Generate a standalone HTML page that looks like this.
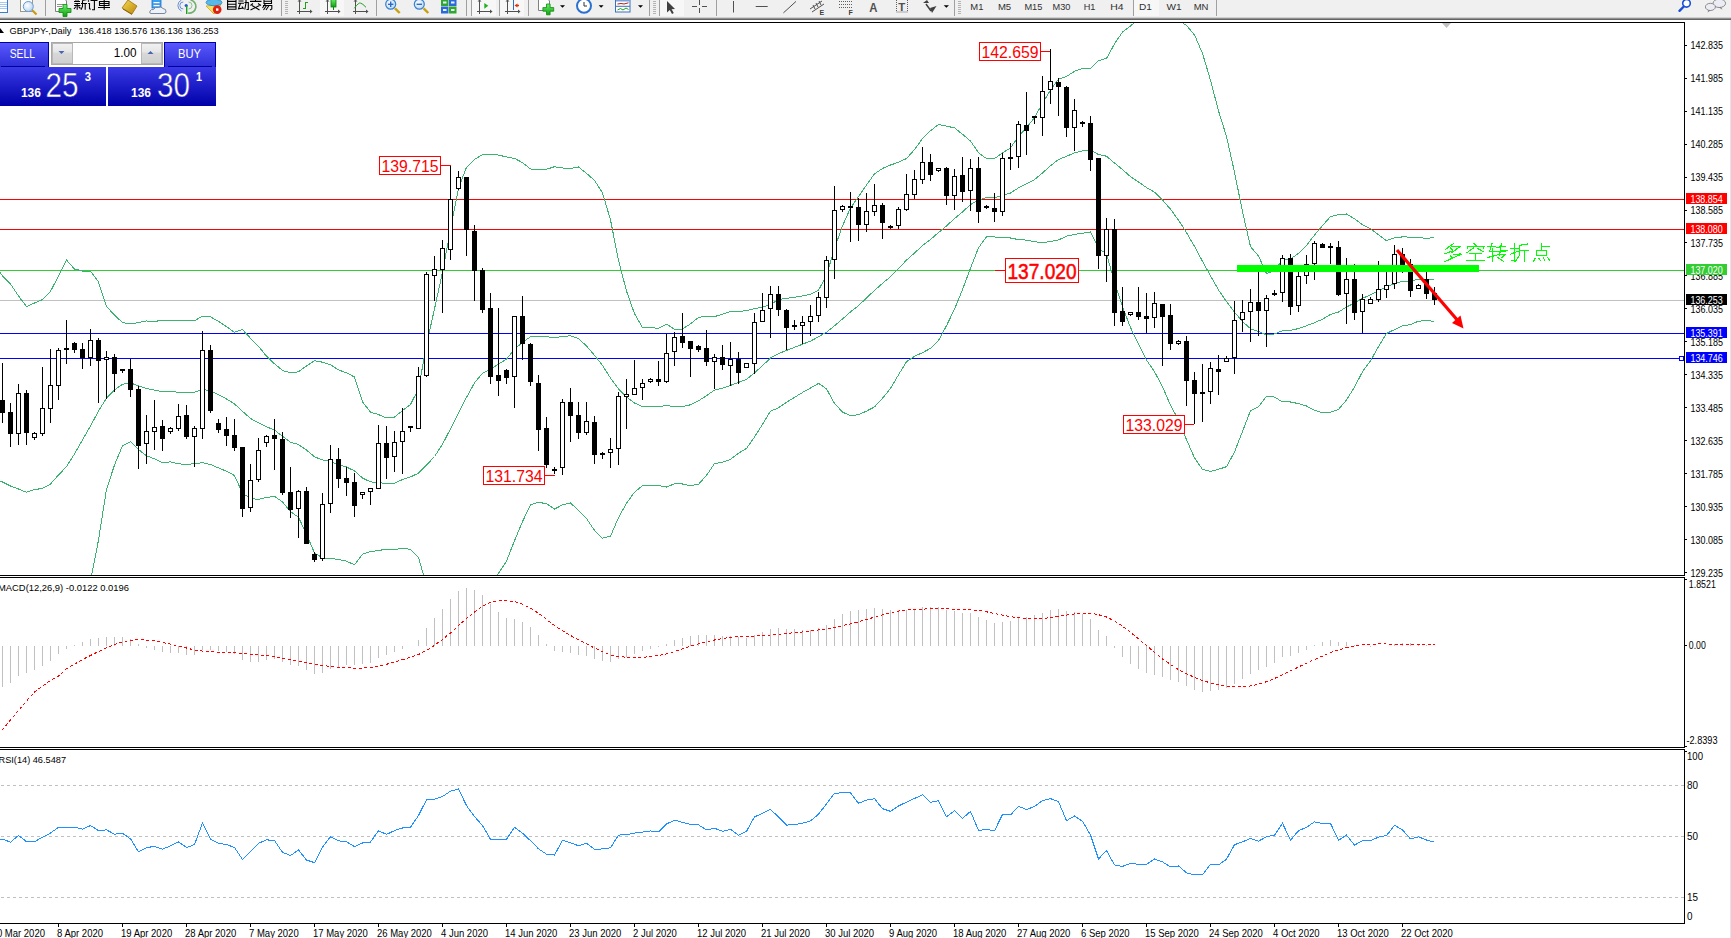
<!DOCTYPE html>
<html><head><meta charset="utf-8"><style>
html,body{margin:0;padding:0;background:#fff;width:1731px;height:938px;overflow:hidden;}
svg{display:block;font-family:"Liberation Sans", sans-serif;}
</style></head><body>
<svg width="1731" height="938" viewBox="0 0 1731 938">
<rect x="0" y="0" width="1731" height="938" fill="#ffffff"/>

<g id="toolbar">
<rect x="0" y="0" width="1731" height="18" fill="#f0f0f0"/>
<rect x="0" y="17" width="1731" height="1" fill="#d0d0d0"/>
<rect x="0" y="18" width="1731" height="1" fill="#909090"/>
<rect x="0" y="19" width="1731" height="1" fill="#646464"/>
</g>
<g id="frames" shape-rendering="crispEdges" stroke="#000" stroke-width="1" fill="none">
<path d="M0,22.5H1684.5V575.5H0"/>
<path d="M0,577.5H1684.5V747.5H0"/>
<path d="M0,749.5H1684.5V923.5H0"/>
</g>
<g shape-rendering="crispEdges" fill="none" stroke-width="1">
<path d="M0,199.5H1684" stroke="#ff0000"/>
<path d="M0,229.5H1684" stroke="#ff0000"/>
<path d="M0,270.5H1684" stroke="#32cd32"/>
<path d="M0,300.5H1684" stroke="#c0c0c0"/>
<path d="M0,333.5H1684" stroke="#0000ff"/>
<path d="M0,358.5H1684" stroke="#0000ff"/>
</g>
<defs><clipPath id="cmain"><rect x="0" y="23" width="1684" height="552"/></clipPath><clipPath id="cmacd"><rect x="0" y="578" width="1684" height="169"/></clipPath><clipPath id="crsi"><rect x="0" y="750" width="1684" height="173"/></clipPath></defs>
<g clip-path="url(#cmain)" fill="none" stroke="#3cb371" stroke-width="1" shape-rendering="crispEdges">
<polyline points="-5.5,265.0 2.5,276.0 10.5,284.0 18.5,296.0 26.5,306.6 34.5,303.0 42.5,299.6 50.5,291.3 58.5,276.0 66.5,260.0 74.5,269.0 82.5,271.0 90.5,271.0 98.5,282.0 106.5,306.6 114.5,315.0 122.5,322.6 130.5,324.0 138.5,322.5 146.5,321.0 154.5,321.5 162.5,320.2 170.5,320.6 178.5,320.9 186.5,320.6 194.5,320.9 202.5,316.1 210.5,316.9 218.5,321.4 226.5,326.7 234.5,332.3 242.5,329.6 250.5,338.3 258.5,346.3 266.5,356.2 274.5,363.8 282.5,370.5 290.5,372.7 298.5,371.8 306.5,365.9 314.5,360.7 322.5,362.2 330.5,364.8 338.5,369.9 346.5,372.8 354.5,377.0 362.5,401.9 370.5,412.1 378.5,414.6 386.5,418.0 394.5,417.1 402.5,410.6 410.5,404.4 418.5,389.0 426.5,344.7 434.5,308.9 442.5,272.2 450.5,229.3 458.5,188.0 466.5,167.3 474.5,159.4 482.5,154.7 490.5,154.1 498.5,155.1 506.5,156.9 514.5,158.4 522.5,162.6 530.5,169.0 538.5,169.9 546.5,169.3 554.5,166.7 562.5,168.0 570.5,168.6 578.5,166.9 586.5,173.4 594.5,180.4 602.5,192.9 610.5,219.9 618.5,260.3 626.5,291.1 634.5,313.7 642.5,327.6 650.5,327.9 658.5,328.1 666.5,324.1 674.5,329.4 682.5,329.0 690.5,323.9 698.5,317.4 706.5,316.1 714.5,316.6 722.5,314.2 730.5,311.5 738.5,311.6 746.5,310.6 754.5,308.7 762.5,307.1 770.5,304.7 778.5,299.5 786.5,298.4 794.5,297.3 802.5,296.0 810.5,294.2 818.5,290.2 826.5,275.6 834.5,248.1 842.5,226.0 850.5,207.9 858.5,196.6 866.5,185.0 874.5,173.9 882.5,168.5 890.5,165.0 898.5,162.3 906.5,158.5 914.5,149.7 922.5,138.6 930.5,130.8 938.5,124.5 946.5,126.2 954.5,127.8 962.5,134.3 970.5,141.0 978.5,152.7 986.5,158.6 994.5,158.6 1002.5,152.8 1010.5,147.9 1018.5,136.3 1026.5,127.7 1034.5,117.6 1042.5,103.3 1050.5,89.9 1058.5,79.2 1066.5,76.4 1074.5,71.3 1082.5,68.4 1090.5,68.3 1098.5,60.7 1106.5,58.4 1114.5,43.9 1122.5,32.0 1130.5,25.9 1138.5,19.7 1146.5,14.8 1154.5,12.4 1162.5,13.1 1170.5,13.3 1178.5,20.2 1186.5,25.5 1194.5,34.9 1202.5,53.4 1210.5,80.3 1218.5,110.8 1226.5,136.4 1234.5,172.2 1242.5,211.7 1250.5,246.7 1258.5,255.9 1266.5,273.5 1274.5,270.7 1282.5,259.6 1290.5,259.0 1298.5,253.3 1306.5,245.4 1314.5,235.1 1322.5,225.7 1330.5,216.6 1338.5,214.7 1346.5,214.0 1354.5,218.7 1362.5,224.8 1370.5,228.8 1378.5,234.8 1386.5,240.6 1394.5,237.8 1402.5,236.9 1410.5,237.1 1418.5,237.9 1426.5,238.1 1434.5,237.9"/>
<polyline points="-5.5,479.0 2.5,482.0 10.5,486.0 18.5,489.0 26.5,492.3 34.5,489.6 42.5,488.4 50.5,484.0 58.5,475.0 66.5,466.6 74.5,454.0 82.5,440.0 90.5,426.0 98.5,411.0 106.5,398.0 114.5,390.0 122.5,384.2 130.5,382.8 138.5,386.0 146.5,388.4 154.5,390.2 162.5,391.5 170.5,391.2 178.5,392.4 186.5,392.5 194.5,392.3 202.5,389.4 210.5,390.7 218.5,394.7 226.5,399.0 234.5,403.9 242.5,411.4 250.5,418.4 258.5,422.9 266.5,426.8 274.5,430.1 282.5,436.2 290.5,442.2 298.5,444.5 306.5,450.1 314.5,456.8 322.5,460.0 330.5,461.6 338.5,464.7 346.5,467.0 354.5,470.9 362.5,478.0 370.5,481.9 378.5,482.5 386.5,483.6 394.5,483.3 402.5,479.5 410.5,476.9 418.5,473.2 426.5,465.1 434.5,456.5 442.5,444.3 450.5,428.8 458.5,413.1 466.5,397.4 474.5,382.9 482.5,373.2 490.5,369.1 498.5,364.2 506.5,359.0 514.5,349.5 522.5,342.1 530.5,336.8 538.5,336.1 546.5,336.5 554.5,337.9 562.5,336.4 570.5,335.8 578.5,338.6 586.5,346.0 594.5,355.3 602.5,365.5 610.5,378.0 618.5,389.0 626.5,397.1 634.5,403.0 642.5,406.6 650.5,406.8 658.5,406.8 666.5,405.5 674.5,406.6 682.5,406.5 690.5,404.8 698.5,400.8 706.5,395.7 714.5,390.1 722.5,388.2 730.5,385.4 738.5,382.4 746.5,379.5 754.5,372.8 762.5,365.7 770.5,358.0 778.5,353.7 786.5,350.4 794.5,347.3 802.5,344.2 810.5,341.1 818.5,336.8 826.5,332.2 834.5,325.8 842.5,319.0 850.5,311.9 858.5,305.6 866.5,298.0 874.5,290.4 882.5,283.3 890.5,276.7 898.5,268.5 906.5,260.1 914.5,253.0 922.5,245.6 930.5,239.6 938.5,232.5 946.5,226.0 954.5,218.5 962.5,212.0 970.5,204.5 978.5,200.3 986.5,197.6 994.5,197.8 1002.5,195.4 1010.5,193.0 1018.5,187.9 1026.5,183.9 1034.5,179.6 1042.5,173.0 1050.5,165.7 1058.5,159.6 1066.5,156.3 1074.5,152.8 1082.5,150.9 1090.5,150.1 1098.5,154.5 1106.5,156.2 1114.5,163.0 1122.5,169.5 1130.5,176.7 1138.5,182.0 1146.5,187.5 1154.5,192.1 1162.5,200.0 1170.5,209.2 1178.5,220.1 1186.5,232.6 1194.5,246.4 1202.5,261.4 1210.5,275.8 1218.5,290.0 1226.5,301.6 1234.5,312.1 1242.5,321.5 1250.5,328.7 1258.5,331.4 1266.5,334.9 1274.5,333.9 1282.5,330.8 1290.5,330.5 1298.5,328.5 1306.5,325.7 1314.5,322.7 1322.5,319.2 1330.5,314.4 1338.5,312.1 1346.5,307.0 1354.5,303.0 1362.5,298.3 1370.5,294.8 1378.5,290.7 1386.5,287.0 1394.5,283.7 1402.5,281.4 1410.5,280.8 1418.5,279.5 1426.5,279.3 1434.5,279.6"/>
<polyline points="-5.5,693.0 2.5,688.0 10.5,688.0 18.5,682.0 26.5,678.0 34.5,676.2 42.5,677.2 50.5,676.7 58.5,674.0 66.5,673.2 74.5,639.0 82.5,609.0 90.5,581.0 98.5,540.0 106.5,489.4 114.5,465.0 122.5,445.8 130.5,441.6 138.5,449.5 146.5,455.8 154.5,458.8 162.5,462.7 170.5,461.8 178.5,463.8 186.5,464.5 194.5,463.7 202.5,462.7 210.5,464.5 218.5,467.9 226.5,471.3 234.5,475.5 242.5,493.2 250.5,498.5 258.5,499.5 266.5,497.4 274.5,496.4 282.5,501.9 290.5,511.7 298.5,517.2 306.5,534.4 314.5,552.9 322.5,557.9 330.5,558.4 338.5,559.5 346.5,561.2 354.5,564.8 362.5,554.1 370.5,551.6 378.5,550.5 386.5,549.2 394.5,549.6 402.5,548.3 410.5,549.3 418.5,557.3 426.5,585.4 434.5,604.1 442.5,616.3 450.5,628.3 458.5,638.2 466.5,627.5 474.5,606.5 482.5,591.8 490.5,584.1 498.5,573.4 506.5,561.1 514.5,540.7 522.5,521.7 530.5,504.7 538.5,502.3 546.5,503.7 554.5,509.1 562.5,504.9 570.5,503.0 578.5,510.3 586.5,518.6 594.5,530.3 602.5,538.2 610.5,536.2 618.5,517.6 626.5,503.2 634.5,492.2 642.5,485.7 650.5,485.6 658.5,485.6 666.5,487.0 674.5,483.8 682.5,484.0 690.5,485.7 698.5,484.3 706.5,475.4 714.5,463.6 722.5,462.3 730.5,459.4 738.5,453.2 746.5,448.4 754.5,437.0 762.5,424.3 770.5,411.2 778.5,407.8 786.5,402.3 794.5,397.3 802.5,392.5 810.5,388.0 818.5,383.4 826.5,388.8 834.5,403.5 842.5,412.0 850.5,415.8 858.5,414.6 866.5,411.1 874.5,406.9 882.5,398.2 890.5,388.5 898.5,374.8 906.5,361.7 914.5,356.3 922.5,352.6 930.5,348.4 938.5,340.5 946.5,325.7 954.5,309.1 962.5,289.7 970.5,268.1 978.5,247.8 986.5,236.7 994.5,236.9 1002.5,237.9 1010.5,238.0 1018.5,239.6 1026.5,240.1 1034.5,241.6 1042.5,242.7 1050.5,241.5 1058.5,240.0 1066.5,236.2 1074.5,234.4 1082.5,233.3 1090.5,232.0 1098.5,248.4 1106.5,253.9 1114.5,282.0 1122.5,306.9 1130.5,327.5 1138.5,344.3 1146.5,360.1 1154.5,371.7 1162.5,386.8 1170.5,405.2 1178.5,420.0 1186.5,439.7 1194.5,457.8 1202.5,469.4 1210.5,471.3 1218.5,469.3 1226.5,466.7 1234.5,452.0 1242.5,431.4 1250.5,410.6 1258.5,406.9 1266.5,396.2 1274.5,397.1 1282.5,401.9 1290.5,402.0 1298.5,403.6 1306.5,406.0 1314.5,410.3 1322.5,412.8 1330.5,412.2 1338.5,409.4 1346.5,400.0 1354.5,387.2 1362.5,371.7 1370.5,360.9 1378.5,346.6 1386.5,333.5 1394.5,329.6 1402.5,325.9 1410.5,324.6 1418.5,321.2 1426.5,320.6 1434.5,321.3"/>
</g>
<g id="candles" shape-rendering="crispEdges">
<rect x="2" y="363" width="1" height="60" fill="#000"/>
<rect x="0" y="400" width="5" height="13" fill="#000"/>
<rect x="10" y="403" width="1" height="44" fill="#000"/>
<rect x="8" y="412" width="5" height="22" fill="#000"/>
<rect x="18" y="384" width="1" height="61" fill="#000"/>
<rect x="16" y="393" width="5" height="41" fill="#000"/>
<rect x="17" y="394" width="3" height="39" fill="#fff"/>
<rect x="26" y="390" width="1" height="55" fill="#000"/>
<rect x="24" y="393" width="5" height="40" fill="#000"/>
<rect x="34" y="432" width="1" height="8" fill="#000"/>
<rect x="32" y="433" width="5" height="5" fill="#000"/>
<rect x="33" y="434" width="3" height="3" fill="#fff"/>
<rect x="42" y="367" width="1" height="69" fill="#000"/>
<rect x="40" y="408" width="5" height="26" fill="#000"/>
<rect x="41" y="409" width="3" height="24" fill="#fff"/>
<rect x="50" y="349" width="1" height="74" fill="#000"/>
<rect x="48" y="385" width="5" height="24" fill="#000"/>
<rect x="49" y="386" width="3" height="22" fill="#fff"/>
<rect x="58" y="348" width="1" height="52" fill="#000"/>
<rect x="56" y="350" width="5" height="36" fill="#000"/>
<rect x="57" y="351" width="3" height="34" fill="#fff"/>
<rect x="66" y="320" width="1" height="44" fill="#000"/>
<rect x="64" y="348" width="5" height="2" fill="#000"/>
<rect x="74" y="342" width="1" height="11" fill="#000"/>
<rect x="72" y="343" width="5" height="7" fill="#000"/>
<rect x="82" y="343" width="1" height="26" fill="#000"/>
<rect x="80" y="349" width="5" height="9" fill="#000"/>
<rect x="90" y="329" width="1" height="37" fill="#000"/>
<rect x="88" y="340" width="5" height="18" fill="#000"/>
<rect x="89" y="341" width="3" height="16" fill="#fff"/>
<rect x="98" y="338" width="1" height="65" fill="#000"/>
<rect x="96" y="340" width="5" height="21" fill="#000"/>
<rect x="106" y="351" width="1" height="48" fill="#000"/>
<rect x="104" y="357" width="5" height="3" fill="#000"/>
<rect x="105" y="358" width="3" height="1" fill="#fff"/>
<rect x="114" y="354" width="1" height="38" fill="#000"/>
<rect x="112" y="357" width="5" height="17" fill="#000"/>
<rect x="122" y="369" width="1" height="4" fill="#000"/>
<rect x="120" y="369" width="5" height="2" fill="#000"/>
<rect x="130" y="359" width="1" height="38" fill="#000"/>
<rect x="128" y="369" width="5" height="21" fill="#000"/>
<rect x="138" y="386" width="1" height="83" fill="#000"/>
<rect x="136" y="389" width="5" height="57" fill="#000"/>
<rect x="146" y="415" width="1" height="49" fill="#000"/>
<rect x="144" y="431" width="5" height="13" fill="#000"/>
<rect x="145" y="432" width="3" height="11" fill="#fff"/>
<rect x="154" y="400" width="1" height="50" fill="#000"/>
<rect x="152" y="427" width="5" height="5" fill="#000"/>
<rect x="153" y="428" width="3" height="3" fill="#fff"/>
<rect x="162" y="420" width="1" height="31" fill="#000"/>
<rect x="160" y="426" width="5" height="13" fill="#000"/>
<rect x="170" y="427" width="1" height="7" fill="#000"/>
<rect x="168" y="428" width="5" height="4" fill="#000"/>
<rect x="169" y="429" width="3" height="2" fill="#fff"/>
<rect x="178" y="404" width="1" height="27" fill="#000"/>
<rect x="176" y="416" width="5" height="13" fill="#000"/>
<rect x="177" y="417" width="3" height="11" fill="#fff"/>
<rect x="186" y="405" width="1" height="34" fill="#000"/>
<rect x="184" y="415" width="5" height="22" fill="#000"/>
<rect x="194" y="426" width="1" height="41" fill="#000"/>
<rect x="192" y="428" width="5" height="9" fill="#000"/>
<rect x="193" y="429" width="3" height="7" fill="#fff"/>
<rect x="202" y="331" width="1" height="108" fill="#000"/>
<rect x="200" y="350" width="5" height="79" fill="#000"/>
<rect x="201" y="351" width="3" height="77" fill="#fff"/>
<rect x="210" y="345" width="1" height="68" fill="#000"/>
<rect x="208" y="350" width="5" height="61" fill="#000"/>
<rect x="218" y="419" width="1" height="14" fill="#000"/>
<rect x="216" y="423" width="5" height="7" fill="#000"/>
<rect x="226" y="417" width="1" height="29" fill="#000"/>
<rect x="224" y="429" width="5" height="7" fill="#000"/>
<rect x="234" y="419" width="1" height="32" fill="#000"/>
<rect x="232" y="435" width="5" height="13" fill="#000"/>
<rect x="242" y="447" width="1" height="70" fill="#000"/>
<rect x="240" y="447" width="5" height="62" fill="#000"/>
<rect x="250" y="464" width="1" height="48" fill="#000"/>
<rect x="248" y="480" width="5" height="28" fill="#000"/>
<rect x="249" y="481" width="3" height="26" fill="#fff"/>
<rect x="258" y="438" width="1" height="44" fill="#000"/>
<rect x="256" y="450" width="5" height="30" fill="#000"/>
<rect x="257" y="451" width="3" height="28" fill="#fff"/>
<rect x="266" y="435" width="1" height="12" fill="#000"/>
<rect x="264" y="436" width="5" height="7" fill="#000"/>
<rect x="265" y="437" width="3" height="5" fill="#fff"/>
<rect x="274" y="419" width="1" height="51" fill="#000"/>
<rect x="272" y="435" width="5" height="4" fill="#000"/>
<rect x="282" y="432" width="1" height="63" fill="#000"/>
<rect x="280" y="439" width="5" height="54" fill="#000"/>
<rect x="290" y="467" width="1" height="51" fill="#000"/>
<rect x="288" y="492" width="5" height="18" fill="#000"/>
<rect x="298" y="490" width="1" height="48" fill="#000"/>
<rect x="296" y="491" width="5" height="18" fill="#000"/>
<rect x="297" y="492" width="3" height="16" fill="#fff"/>
<rect x="306" y="487" width="1" height="57" fill="#000"/>
<rect x="304" y="491" width="5" height="53" fill="#000"/>
<rect x="314" y="552" width="1" height="10" fill="#000"/>
<rect x="312" y="554" width="5" height="6" fill="#000"/>
<rect x="322" y="493" width="1" height="68" fill="#000"/>
<rect x="320" y="504" width="5" height="55" fill="#000"/>
<rect x="321" y="505" width="3" height="53" fill="#fff"/>
<rect x="330" y="445" width="1" height="68" fill="#000"/>
<rect x="328" y="459" width="5" height="45" fill="#000"/>
<rect x="329" y="460" width="3" height="43" fill="#fff"/>
<rect x="338" y="448" width="1" height="40" fill="#000"/>
<rect x="336" y="459" width="5" height="20" fill="#000"/>
<rect x="346" y="467" width="1" height="29" fill="#000"/>
<rect x="344" y="478" width="5" height="5" fill="#000"/>
<rect x="354" y="473" width="1" height="44" fill="#000"/>
<rect x="352" y="482" width="5" height="24" fill="#000"/>
<rect x="362" y="492" width="1" height="7" fill="#000"/>
<rect x="360" y="492" width="5" height="3" fill="#000"/>
<rect x="361" y="493" width="3" height="1" fill="#fff"/>
<rect x="370" y="488" width="1" height="17" fill="#000"/>
<rect x="368" y="488" width="5" height="4" fill="#000"/>
<rect x="369" y="489" width="3" height="2" fill="#fff"/>
<rect x="378" y="425" width="1" height="64" fill="#000"/>
<rect x="376" y="443" width="5" height="46" fill="#000"/>
<rect x="377" y="444" width="3" height="44" fill="#fff"/>
<rect x="386" y="426" width="1" height="53" fill="#000"/>
<rect x="384" y="443" width="5" height="15" fill="#000"/>
<rect x="394" y="431" width="1" height="41" fill="#000"/>
<rect x="392" y="442" width="5" height="15" fill="#000"/>
<rect x="393" y="443" width="3" height="13" fill="#fff"/>
<rect x="402" y="408" width="1" height="66" fill="#000"/>
<rect x="400" y="431" width="5" height="11" fill="#000"/>
<rect x="401" y="432" width="3" height="9" fill="#fff"/>
<rect x="410" y="426" width="1" height="6" fill="#000"/>
<rect x="408" y="426" width="5" height="2" fill="#000"/>
<rect x="418" y="367" width="1" height="62" fill="#000"/>
<rect x="416" y="376" width="5" height="53" fill="#000"/>
<rect x="417" y="377" width="3" height="51" fill="#fff"/>
<rect x="426" y="272" width="1" height="105" fill="#000"/>
<rect x="424" y="274" width="5" height="102" fill="#000"/>
<rect x="425" y="275" width="3" height="100" fill="#fff"/>
<rect x="434" y="256" width="1" height="45" fill="#000"/>
<rect x="432" y="269" width="5" height="7" fill="#000"/>
<rect x="433" y="270" width="3" height="5" fill="#fff"/>
<rect x="442" y="240" width="1" height="73" fill="#000"/>
<rect x="440" y="248" width="5" height="22" fill="#000"/>
<rect x="441" y="249" width="3" height="20" fill="#fff"/>
<rect x="450" y="165" width="1" height="95" fill="#000"/>
<rect x="448" y="199" width="5" height="51" fill="#000"/>
<rect x="449" y="200" width="3" height="49" fill="#fff"/>
<rect x="458" y="171" width="1" height="19" fill="#000"/>
<rect x="456" y="177" width="5" height="12" fill="#000"/>
<rect x="457" y="178" width="3" height="10" fill="#fff"/>
<rect x="466" y="177" width="1" height="79" fill="#000"/>
<rect x="464" y="177" width="5" height="53" fill="#000"/>
<rect x="474" y="225" width="1" height="76" fill="#000"/>
<rect x="472" y="231" width="5" height="40" fill="#000"/>
<rect x="482" y="268" width="1" height="45" fill="#000"/>
<rect x="480" y="270" width="5" height="40" fill="#000"/>
<rect x="490" y="293" width="1" height="91" fill="#000"/>
<rect x="488" y="308" width="5" height="69" fill="#000"/>
<rect x="498" y="308" width="1" height="88" fill="#000"/>
<rect x="496" y="375" width="5" height="6" fill="#000"/>
<rect x="506" y="369" width="1" height="15" fill="#000"/>
<rect x="504" y="370" width="5" height="8" fill="#000"/>
<rect x="514" y="316" width="1" height="92" fill="#000"/>
<rect x="512" y="316" width="5" height="61" fill="#000"/>
<rect x="513" y="317" width="3" height="59" fill="#fff"/>
<rect x="522" y="296" width="1" height="64" fill="#000"/>
<rect x="520" y="316" width="5" height="28" fill="#000"/>
<rect x="530" y="343" width="1" height="43" fill="#000"/>
<rect x="528" y="344" width="5" height="38" fill="#000"/>
<rect x="538" y="375" width="1" height="76" fill="#000"/>
<rect x="536" y="383" width="5" height="47" fill="#000"/>
<rect x="546" y="417" width="1" height="51" fill="#000"/>
<rect x="544" y="428" width="5" height="37" fill="#000"/>
<rect x="554" y="467" width="1" height="7" fill="#000"/>
<rect x="552" y="469" width="5" height="2" fill="#000"/>
<rect x="562" y="399" width="1" height="76" fill="#000"/>
<rect x="560" y="402" width="5" height="66" fill="#000"/>
<rect x="561" y="403" width="3" height="64" fill="#fff"/>
<rect x="570" y="388" width="1" height="54" fill="#000"/>
<rect x="568" y="402" width="5" height="14" fill="#000"/>
<rect x="578" y="402" width="1" height="37" fill="#000"/>
<rect x="576" y="415" width="5" height="18" fill="#000"/>
<rect x="586" y="402" width="1" height="33" fill="#000"/>
<rect x="584" y="421" width="5" height="12" fill="#000"/>
<rect x="585" y="422" width="3" height="10" fill="#fff"/>
<rect x="594" y="416" width="1" height="48" fill="#000"/>
<rect x="592" y="422" width="5" height="33" fill="#000"/>
<rect x="602" y="452" width="1" height="7" fill="#000"/>
<rect x="600" y="453" width="5" height="2" fill="#000"/>
<rect x="610" y="438" width="1" height="30" fill="#000"/>
<rect x="608" y="449" width="5" height="4" fill="#000"/>
<rect x="609" y="450" width="3" height="2" fill="#fff"/>
<rect x="618" y="392" width="1" height="73" fill="#000"/>
<rect x="616" y="396" width="5" height="53" fill="#000"/>
<rect x="617" y="397" width="3" height="51" fill="#fff"/>
<rect x="626" y="379" width="1" height="50" fill="#000"/>
<rect x="624" y="394" width="5" height="3" fill="#000"/>
<rect x="625" y="395" width="3" height="1" fill="#fff"/>
<rect x="634" y="360" width="1" height="35" fill="#000"/>
<rect x="632" y="388" width="5" height="7" fill="#000"/>
<rect x="633" y="389" width="3" height="5" fill="#fff"/>
<rect x="642" y="379" width="1" height="21" fill="#000"/>
<rect x="640" y="383" width="5" height="5" fill="#000"/>
<rect x="641" y="384" width="3" height="3" fill="#fff"/>
<rect x="650" y="378" width="1" height="5" fill="#000"/>
<rect x="648" y="379" width="5" height="3" fill="#000"/>
<rect x="649" y="380" width="3" height="1" fill="#fff"/>
<rect x="658" y="361" width="1" height="25" fill="#000"/>
<rect x="656" y="379" width="5" height="3" fill="#000"/>
<rect x="666" y="334" width="1" height="49" fill="#000"/>
<rect x="664" y="353" width="5" height="29" fill="#000"/>
<rect x="665" y="354" width="3" height="27" fill="#fff"/>
<rect x="674" y="332" width="1" height="34" fill="#000"/>
<rect x="672" y="337" width="5" height="15" fill="#000"/>
<rect x="673" y="338" width="3" height="13" fill="#fff"/>
<rect x="682" y="313" width="1" height="35" fill="#000"/>
<rect x="680" y="336" width="5" height="7" fill="#000"/>
<rect x="690" y="341" width="1" height="36" fill="#000"/>
<rect x="688" y="341" width="5" height="8" fill="#000"/>
<rect x="698" y="345" width="1" height="7" fill="#000"/>
<rect x="696" y="346" width="5" height="4" fill="#000"/>
<rect x="706" y="330" width="1" height="36" fill="#000"/>
<rect x="704" y="348" width="5" height="14" fill="#000"/>
<rect x="714" y="354" width="1" height="35" fill="#000"/>
<rect x="712" y="357" width="5" height="5" fill="#000"/>
<rect x="713" y="358" width="3" height="3" fill="#fff"/>
<rect x="722" y="345" width="1" height="25" fill="#000"/>
<rect x="720" y="357" width="5" height="8" fill="#000"/>
<rect x="730" y="342" width="1" height="44" fill="#000"/>
<rect x="728" y="359" width="5" height="7" fill="#000"/>
<rect x="729" y="360" width="3" height="5" fill="#fff"/>
<rect x="738" y="352" width="1" height="32" fill="#000"/>
<rect x="736" y="359" width="5" height="14" fill="#000"/>
<rect x="746" y="363" width="1" height="5" fill="#000"/>
<rect x="744" y="363" width="5" height="5" fill="#000"/>
<rect x="745" y="364" width="3" height="3" fill="#fff"/>
<rect x="754" y="313" width="1" height="61" fill="#000"/>
<rect x="752" y="322" width="5" height="42" fill="#000"/>
<rect x="753" y="323" width="3" height="40" fill="#fff"/>
<rect x="762" y="293" width="1" height="29" fill="#000"/>
<rect x="760" y="310" width="5" height="12" fill="#000"/>
<rect x="761" y="311" width="3" height="10" fill="#fff"/>
<rect x="770" y="286" width="1" height="52" fill="#000"/>
<rect x="768" y="294" width="5" height="15" fill="#000"/>
<rect x="769" y="295" width="3" height="13" fill="#fff"/>
<rect x="778" y="286" width="1" height="30" fill="#000"/>
<rect x="776" y="294" width="5" height="16" fill="#000"/>
<rect x="786" y="309" width="1" height="41" fill="#000"/>
<rect x="784" y="310" width="5" height="18" fill="#000"/>
<rect x="794" y="320" width="1" height="10" fill="#000"/>
<rect x="792" y="325" width="5" height="2" fill="#000"/>
<rect x="802" y="316" width="1" height="28" fill="#000"/>
<rect x="800" y="322" width="5" height="4" fill="#000"/>
<rect x="801" y="323" width="3" height="2" fill="#fff"/>
<rect x="810" y="305" width="1" height="31" fill="#000"/>
<rect x="808" y="316" width="5" height="6" fill="#000"/>
<rect x="809" y="317" width="3" height="4" fill="#fff"/>
<rect x="818" y="292" width="1" height="30" fill="#000"/>
<rect x="816" y="297" width="5" height="19" fill="#000"/>
<rect x="817" y="298" width="3" height="17" fill="#fff"/>
<rect x="826" y="256" width="1" height="52" fill="#000"/>
<rect x="824" y="260" width="5" height="38" fill="#000"/>
<rect x="825" y="261" width="3" height="36" fill="#fff"/>
<rect x="834" y="186" width="1" height="93" fill="#000"/>
<rect x="832" y="210" width="5" height="50" fill="#000"/>
<rect x="833" y="211" width="3" height="48" fill="#fff"/>
<rect x="842" y="205" width="1" height="7" fill="#000"/>
<rect x="840" y="206" width="5" height="4" fill="#000"/>
<rect x="841" y="207" width="3" height="2" fill="#fff"/>
<rect x="850" y="192" width="1" height="50" fill="#000"/>
<rect x="848" y="206" width="5" height="2" fill="#000"/>
<rect x="858" y="198" width="1" height="43" fill="#000"/>
<rect x="856" y="207" width="5" height="18" fill="#000"/>
<rect x="866" y="193" width="1" height="39" fill="#000"/>
<rect x="864" y="211" width="5" height="14" fill="#000"/>
<rect x="865" y="212" width="3" height="12" fill="#fff"/>
<rect x="874" y="184" width="1" height="32" fill="#000"/>
<rect x="872" y="205" width="5" height="7" fill="#000"/>
<rect x="873" y="206" width="3" height="5" fill="#fff"/>
<rect x="882" y="203" width="1" height="36" fill="#000"/>
<rect x="880" y="205" width="5" height="18" fill="#000"/>
<rect x="890" y="225" width="1" height="4" fill="#000"/>
<rect x="888" y="226" width="5" height="2" fill="#000"/>
<rect x="898" y="207" width="1" height="22" fill="#000"/>
<rect x="896" y="209" width="5" height="17" fill="#000"/>
<rect x="897" y="210" width="3" height="15" fill="#fff"/>
<rect x="906" y="174" width="1" height="37" fill="#000"/>
<rect x="904" y="194" width="5" height="16" fill="#000"/>
<rect x="905" y="195" width="3" height="14" fill="#fff"/>
<rect x="914" y="170" width="1" height="29" fill="#000"/>
<rect x="912" y="179" width="5" height="16" fill="#000"/>
<rect x="913" y="180" width="3" height="14" fill="#fff"/>
<rect x="922" y="147" width="1" height="37" fill="#000"/>
<rect x="920" y="162" width="5" height="18" fill="#000"/>
<rect x="921" y="163" width="3" height="16" fill="#fff"/>
<rect x="930" y="154" width="1" height="27" fill="#000"/>
<rect x="928" y="162" width="5" height="13" fill="#000"/>
<rect x="938" y="168" width="1" height="4" fill="#000"/>
<rect x="936" y="168" width="5" height="3" fill="#000"/>
<rect x="937" y="169" width="3" height="1" fill="#fff"/>
<rect x="946" y="167" width="1" height="38" fill="#000"/>
<rect x="944" y="168" width="5" height="28" fill="#000"/>
<rect x="954" y="169" width="1" height="41" fill="#000"/>
<rect x="952" y="176" width="5" height="20" fill="#000"/>
<rect x="953" y="177" width="3" height="18" fill="#fff"/>
<rect x="962" y="157" width="1" height="45" fill="#000"/>
<rect x="960" y="175" width="5" height="17" fill="#000"/>
<rect x="970" y="159" width="1" height="52" fill="#000"/>
<rect x="968" y="168" width="5" height="23" fill="#000"/>
<rect x="969" y="169" width="3" height="21" fill="#fff"/>
<rect x="978" y="157" width="1" height="66" fill="#000"/>
<rect x="976" y="168" width="5" height="44" fill="#000"/>
<rect x="986" y="205" width="1" height="4" fill="#000"/>
<rect x="984" y="206" width="5" height="2" fill="#000"/>
<rect x="994" y="193" width="1" height="29" fill="#000"/>
<rect x="992" y="208" width="5" height="4" fill="#000"/>
<rect x="1002" y="153" width="1" height="63" fill="#000"/>
<rect x="1000" y="158" width="5" height="54" fill="#000"/>
<rect x="1001" y="159" width="3" height="52" fill="#fff"/>
<rect x="1010" y="143" width="1" height="27" fill="#000"/>
<rect x="1008" y="157" width="5" height="2" fill="#000"/>
<rect x="1018" y="121" width="1" height="47" fill="#000"/>
<rect x="1016" y="124" width="5" height="33" fill="#000"/>
<rect x="1017" y="125" width="3" height="31" fill="#fff"/>
<rect x="1026" y="92" width="1" height="63" fill="#000"/>
<rect x="1024" y="125" width="5" height="6" fill="#000"/>
<rect x="1034" y="116" width="1" height="8" fill="#000"/>
<rect x="1032" y="116" width="5" height="2" fill="#000"/>
<rect x="1042" y="76" width="1" height="60" fill="#000"/>
<rect x="1040" y="91" width="5" height="27" fill="#000"/>
<rect x="1041" y="92" width="3" height="25" fill="#fff"/>
<rect x="1050" y="49" width="1" height="55" fill="#000"/>
<rect x="1048" y="81" width="5" height="9" fill="#000"/>
<rect x="1049" y="82" width="3" height="7" fill="#fff"/>
<rect x="1058" y="78" width="1" height="38" fill="#000"/>
<rect x="1056" y="82" width="5" height="5" fill="#000"/>
<rect x="1066" y="86" width="1" height="51" fill="#000"/>
<rect x="1064" y="87" width="5" height="41" fill="#000"/>
<rect x="1074" y="99" width="1" height="52" fill="#000"/>
<rect x="1072" y="110" width="5" height="18" fill="#000"/>
<rect x="1073" y="111" width="3" height="16" fill="#fff"/>
<rect x="1082" y="121" width="1" height="6" fill="#000"/>
<rect x="1080" y="122" width="5" height="2" fill="#000"/>
<rect x="1090" y="116" width="1" height="55" fill="#000"/>
<rect x="1088" y="123" width="5" height="37" fill="#000"/>
<rect x="1098" y="158" width="1" height="111" fill="#000"/>
<rect x="1096" y="158" width="5" height="98" fill="#000"/>
<rect x="1106" y="218" width="1" height="64" fill="#000"/>
<rect x="1104" y="229" width="5" height="27" fill="#000"/>
<rect x="1105" y="230" width="3" height="25" fill="#fff"/>
<rect x="1114" y="219" width="1" height="107" fill="#000"/>
<rect x="1112" y="229" width="5" height="84" fill="#000"/>
<rect x="1122" y="287" width="1" height="39" fill="#000"/>
<rect x="1120" y="311" width="5" height="11" fill="#000"/>
<rect x="1130" y="312" width="1" height="4" fill="#000"/>
<rect x="1128" y="312" width="5" height="3" fill="#000"/>
<rect x="1129" y="313" width="3" height="1" fill="#fff"/>
<rect x="1138" y="287" width="1" height="33" fill="#000"/>
<rect x="1136" y="312" width="5" height="5" fill="#000"/>
<rect x="1146" y="293" width="1" height="40" fill="#000"/>
<rect x="1144" y="316" width="5" height="3" fill="#000"/>
<rect x="1154" y="292" width="1" height="36" fill="#000"/>
<rect x="1152" y="303" width="5" height="15" fill="#000"/>
<rect x="1153" y="304" width="3" height="13" fill="#fff"/>
<rect x="1162" y="304" width="1" height="62" fill="#000"/>
<rect x="1160" y="304" width="5" height="13" fill="#000"/>
<rect x="1170" y="304" width="1" height="46" fill="#000"/>
<rect x="1168" y="315" width="5" height="29" fill="#000"/>
<rect x="1178" y="340" width="1" height="5" fill="#000"/>
<rect x="1176" y="341" width="5" height="3" fill="#000"/>
<rect x="1177" y="342" width="3" height="1" fill="#fff"/>
<rect x="1186" y="336" width="1" height="70" fill="#000"/>
<rect x="1184" y="341" width="5" height="40" fill="#000"/>
<rect x="1194" y="372" width="1" height="52" fill="#000"/>
<rect x="1192" y="380" width="5" height="14" fill="#000"/>
<rect x="1202" y="364" width="1" height="58" fill="#000"/>
<rect x="1200" y="392" width="5" height="2" fill="#000"/>
<rect x="1210" y="362" width="1" height="42" fill="#000"/>
<rect x="1208" y="368" width="5" height="24" fill="#000"/>
<rect x="1209" y="369" width="3" height="22" fill="#fff"/>
<rect x="1218" y="355" width="1" height="40" fill="#000"/>
<rect x="1216" y="369" width="5" height="3" fill="#000"/>
<rect x="1226" y="356" width="1" height="6" fill="#000"/>
<rect x="1224" y="358" width="5" height="4" fill="#000"/>
<rect x="1225" y="359" width="3" height="2" fill="#fff"/>
<rect x="1234" y="301" width="1" height="73" fill="#000"/>
<rect x="1232" y="320" width="5" height="38" fill="#000"/>
<rect x="1233" y="321" width="3" height="36" fill="#fff"/>
<rect x="1242" y="300" width="1" height="32" fill="#000"/>
<rect x="1240" y="312" width="5" height="8" fill="#000"/>
<rect x="1241" y="313" width="3" height="6" fill="#fff"/>
<rect x="1250" y="289" width="1" height="53" fill="#000"/>
<rect x="1248" y="302" width="5" height="10" fill="#000"/>
<rect x="1249" y="303" width="3" height="8" fill="#fff"/>
<rect x="1258" y="268" width="1" height="68" fill="#000"/>
<rect x="1256" y="302" width="5" height="9" fill="#000"/>
<rect x="1266" y="295" width="1" height="52" fill="#000"/>
<rect x="1264" y="298" width="5" height="13" fill="#000"/>
<rect x="1265" y="299" width="3" height="11" fill="#fff"/>
<rect x="1274" y="290" width="1" height="6" fill="#000"/>
<rect x="1272" y="293" width="5" height="2" fill="#000"/>
<rect x="1282" y="255" width="1" height="47" fill="#000"/>
<rect x="1280" y="258" width="5" height="35" fill="#000"/>
<rect x="1281" y="259" width="3" height="33" fill="#fff"/>
<rect x="1290" y="254" width="1" height="61" fill="#000"/>
<rect x="1288" y="258" width="5" height="49" fill="#000"/>
<rect x="1298" y="270" width="1" height="42" fill="#000"/>
<rect x="1296" y="276" width="5" height="30" fill="#000"/>
<rect x="1297" y="277" width="3" height="28" fill="#fff"/>
<rect x="1306" y="255" width="1" height="29" fill="#000"/>
<rect x="1304" y="264" width="5" height="12" fill="#000"/>
<rect x="1305" y="265" width="3" height="10" fill="#fff"/>
<rect x="1314" y="241" width="1" height="39" fill="#000"/>
<rect x="1312" y="243" width="5" height="21" fill="#000"/>
<rect x="1313" y="244" width="3" height="19" fill="#fff"/>
<rect x="1322" y="243" width="1" height="5" fill="#000"/>
<rect x="1320" y="244" width="5" height="4" fill="#000"/>
<rect x="1330" y="243" width="1" height="21" fill="#000"/>
<rect x="1328" y="246" width="5" height="2" fill="#000"/>
<rect x="1338" y="241" width="1" height="55" fill="#000"/>
<rect x="1336" y="247" width="5" height="48" fill="#000"/>
<rect x="1346" y="258" width="1" height="66" fill="#000"/>
<rect x="1344" y="279" width="5" height="15" fill="#000"/>
<rect x="1345" y="280" width="3" height="13" fill="#fff"/>
<rect x="1354" y="264" width="1" height="56" fill="#000"/>
<rect x="1352" y="279" width="5" height="34" fill="#000"/>
<rect x="1362" y="294" width="1" height="39" fill="#000"/>
<rect x="1360" y="299" width="5" height="13" fill="#000"/>
<rect x="1361" y="300" width="3" height="11" fill="#fff"/>
<rect x="1370" y="297" width="1" height="7" fill="#000"/>
<rect x="1368" y="299" width="5" height="5" fill="#000"/>
<rect x="1369" y="300" width="3" height="3" fill="#fff"/>
<rect x="1378" y="261" width="1" height="41" fill="#000"/>
<rect x="1376" y="289" width="5" height="11" fill="#000"/>
<rect x="1377" y="290" width="3" height="9" fill="#fff"/>
<rect x="1386" y="271" width="1" height="27" fill="#000"/>
<rect x="1384" y="285" width="5" height="5" fill="#000"/>
<rect x="1385" y="286" width="3" height="3" fill="#fff"/>
<rect x="1394" y="245" width="1" height="44" fill="#000"/>
<rect x="1392" y="254" width="5" height="30" fill="#000"/>
<rect x="1393" y="255" width="3" height="28" fill="#fff"/>
<rect x="1402" y="248" width="1" height="25" fill="#000"/>
<rect x="1400" y="254" width="5" height="12" fill="#000"/>
<rect x="1410" y="259" width="1" height="38" fill="#000"/>
<rect x="1408" y="264" width="5" height="27" fill="#000"/>
<rect x="1418" y="284" width="1" height="5" fill="#000"/>
<rect x="1416" y="285" width="5" height="4" fill="#000"/>
<rect x="1417" y="286" width="3" height="2" fill="#fff"/>
<rect x="1426" y="272" width="1" height="27" fill="#000"/>
<rect x="1424" y="279" width="5" height="15" fill="#000"/>
<rect x="1434" y="287" width="1" height="18" fill="#000"/>
<rect x="1432" y="293" width="5" height="7" fill="#000"/>
</g>
<g clip-path="url(#cmacd)" shape-rendering="crispEdges">
<rect x="2" y="646" width="1" height="41" fill="#c0c0c0"/>
<rect x="10" y="646" width="1" height="37" fill="#c0c0c0"/>
<rect x="18" y="646" width="1" height="30" fill="#c0c0c0"/>
<rect x="26" y="646" width="1" height="27" fill="#c0c0c0"/>
<rect x="34" y="646" width="1" height="24" fill="#c0c0c0"/>
<rect x="42" y="646" width="1" height="20" fill="#c0c0c0"/>
<rect x="50" y="646" width="1" height="15" fill="#c0c0c0"/>
<rect x="58" y="646" width="1" height="8" fill="#c0c0c0"/>
<rect x="66" y="646" width="1" height="3" fill="#c0c0c0"/>
<rect x="74" y="645" width="1" height="1" fill="#c0c0c0"/>
<rect x="82" y="642" width="1" height="4" fill="#c0c0c0"/>
<rect x="90" y="639" width="1" height="7" fill="#c0c0c0"/>
<rect x="98" y="638" width="1" height="8" fill="#c0c0c0"/>
<rect x="106" y="637" width="1" height="9" fill="#c0c0c0"/>
<rect x="114" y="637" width="1" height="9" fill="#c0c0c0"/>
<rect x="122" y="637" width="1" height="9" fill="#c0c0c0"/>
<rect x="130" y="639" width="1" height="7" fill="#c0c0c0"/>
<rect x="138" y="644" width="1" height="2" fill="#c0c0c0"/>
<rect x="146" y="646" width="1" height="2" fill="#c0c0c0"/>
<rect x="154" y="646" width="1" height="4" fill="#c0c0c0"/>
<rect x="162" y="646" width="1" height="6" fill="#c0c0c0"/>
<rect x="170" y="646" width="1" height="7" fill="#c0c0c0"/>
<rect x="178" y="646" width="1" height="7" fill="#c0c0c0"/>
<rect x="186" y="646" width="1" height="9" fill="#c0c0c0"/>
<rect x="194" y="646" width="1" height="9" fill="#c0c0c0"/>
<rect x="202" y="646" width="1" height="4" fill="#c0c0c0"/>
<rect x="210" y="646" width="1" height="4" fill="#c0c0c0"/>
<rect x="218" y="646" width="1" height="5" fill="#c0c0c0"/>
<rect x="226" y="646" width="1" height="6" fill="#c0c0c0"/>
<rect x="234" y="646" width="1" height="8" fill="#c0c0c0"/>
<rect x="242" y="646" width="1" height="14" fill="#c0c0c0"/>
<rect x="250" y="646" width="1" height="16" fill="#c0c0c0"/>
<rect x="258" y="646" width="1" height="16" fill="#c0c0c0"/>
<rect x="266" y="646" width="1" height="14" fill="#c0c0c0"/>
<rect x="274" y="646" width="1" height="13" fill="#c0c0c0"/>
<rect x="282" y="646" width="1" height="16" fill="#c0c0c0"/>
<rect x="290" y="646" width="1" height="19" fill="#c0c0c0"/>
<rect x="298" y="646" width="1" height="20" fill="#c0c0c0"/>
<rect x="306" y="646" width="1" height="24" fill="#c0c0c0"/>
<rect x="314" y="646" width="1" height="28" fill="#c0c0c0"/>
<rect x="322" y="646" width="1" height="27" fill="#c0c0c0"/>
<rect x="330" y="646" width="1" height="23" fill="#c0c0c0"/>
<rect x="338" y="646" width="1" height="21" fill="#c0c0c0"/>
<rect x="346" y="646" width="1" height="19" fill="#c0c0c0"/>
<rect x="354" y="646" width="1" height="19" fill="#c0c0c0"/>
<rect x="362" y="646" width="1" height="18" fill="#c0c0c0"/>
<rect x="370" y="646" width="1" height="17" fill="#c0c0c0"/>
<rect x="378" y="646" width="1" height="12" fill="#c0c0c0"/>
<rect x="386" y="646" width="1" height="9" fill="#c0c0c0"/>
<rect x="394" y="646" width="1" height="6" fill="#c0c0c0"/>
<rect x="402" y="646" width="1" height="3" fill="#c0c0c0"/>
<rect x="418" y="640" width="1" height="6" fill="#c0c0c0"/>
<rect x="426" y="628" width="1" height="18" fill="#c0c0c0"/>
<rect x="434" y="618" width="1" height="28" fill="#c0c0c0"/>
<rect x="442" y="609" width="1" height="37" fill="#c0c0c0"/>
<rect x="450" y="599" width="1" height="47" fill="#c0c0c0"/>
<rect x="458" y="591" width="1" height="55" fill="#c0c0c0"/>
<rect x="466" y="588" width="1" height="58" fill="#c0c0c0"/>
<rect x="474" y="590" width="1" height="56" fill="#c0c0c0"/>
<rect x="482" y="595" width="1" height="51" fill="#c0c0c0"/>
<rect x="490" y="604" width="1" height="42" fill="#c0c0c0"/>
<rect x="498" y="612" width="1" height="34" fill="#c0c0c0"/>
<rect x="506" y="618" width="1" height="28" fill="#c0c0c0"/>
<rect x="514" y="619" width="1" height="27" fill="#c0c0c0"/>
<rect x="522" y="622" width="1" height="24" fill="#c0c0c0"/>
<rect x="530" y="627" width="1" height="19" fill="#c0c0c0"/>
<rect x="538" y="635" width="1" height="11" fill="#c0c0c0"/>
<rect x="546" y="644" width="1" height="2" fill="#c0c0c0"/>
<rect x="554" y="646" width="1" height="5" fill="#c0c0c0"/>
<rect x="562" y="646" width="1" height="6" fill="#c0c0c0"/>
<rect x="570" y="646" width="1" height="7" fill="#c0c0c0"/>
<rect x="578" y="646" width="1" height="9" fill="#c0c0c0"/>
<rect x="586" y="646" width="1" height="10" fill="#c0c0c0"/>
<rect x="594" y="646" width="1" height="13" fill="#c0c0c0"/>
<rect x="602" y="646" width="1" height="15" fill="#c0c0c0"/>
<rect x="610" y="646" width="1" height="16" fill="#c0c0c0"/>
<rect x="618" y="646" width="1" height="13" fill="#c0c0c0"/>
<rect x="626" y="646" width="1" height="11" fill="#c0c0c0"/>
<rect x="634" y="646" width="1" height="8" fill="#c0c0c0"/>
<rect x="642" y="646" width="1" height="5" fill="#c0c0c0"/>
<rect x="650" y="646" width="1" height="3" fill="#c0c0c0"/>
<rect x="658" y="646" width="1" height="1" fill="#c0c0c0"/>
<rect x="666" y="644" width="1" height="2" fill="#c0c0c0"/>
<rect x="674" y="640" width="1" height="6" fill="#c0c0c0"/>
<rect x="682" y="638" width="1" height="8" fill="#c0c0c0"/>
<rect x="690" y="636" width="1" height="10" fill="#c0c0c0"/>
<rect x="698" y="635" width="1" height="11" fill="#c0c0c0"/>
<rect x="706" y="635" width="1" height="11" fill="#c0c0c0"/>
<rect x="714" y="635" width="1" height="11" fill="#c0c0c0"/>
<rect x="722" y="636" width="1" height="10" fill="#c0c0c0"/>
<rect x="730" y="636" width="1" height="10" fill="#c0c0c0"/>
<rect x="738" y="637" width="1" height="9" fill="#c0c0c0"/>
<rect x="746" y="638" width="1" height="8" fill="#c0c0c0"/>
<rect x="754" y="635" width="1" height="11" fill="#c0c0c0"/>
<rect x="762" y="632" width="1" height="14" fill="#c0c0c0"/>
<rect x="770" y="629" width="1" height="17" fill="#c0c0c0"/>
<rect x="778" y="628" width="1" height="18" fill="#c0c0c0"/>
<rect x="786" y="629" width="1" height="17" fill="#c0c0c0"/>
<rect x="794" y="629" width="1" height="17" fill="#c0c0c0"/>
<rect x="802" y="630" width="1" height="16" fill="#c0c0c0"/>
<rect x="810" y="630" width="1" height="16" fill="#c0c0c0"/>
<rect x="818" y="628" width="1" height="18" fill="#c0c0c0"/>
<rect x="826" y="625" width="1" height="21" fill="#c0c0c0"/>
<rect x="834" y="619" width="1" height="27" fill="#c0c0c0"/>
<rect x="842" y="614" width="1" height="32" fill="#c0c0c0"/>
<rect x="850" y="611" width="1" height="35" fill="#c0c0c0"/>
<rect x="858" y="610" width="1" height="36" fill="#c0c0c0"/>
<rect x="866" y="609" width="1" height="37" fill="#c0c0c0"/>
<rect x="874" y="608" width="1" height="38" fill="#c0c0c0"/>
<rect x="882" y="609" width="1" height="37" fill="#c0c0c0"/>
<rect x="890" y="610" width="1" height="36" fill="#c0c0c0"/>
<rect x="898" y="610" width="1" height="36" fill="#c0c0c0"/>
<rect x="906" y="610" width="1" height="36" fill="#c0c0c0"/>
<rect x="914" y="609" width="1" height="37" fill="#c0c0c0"/>
<rect x="922" y="607" width="1" height="39" fill="#c0c0c0"/>
<rect x="930" y="607" width="1" height="39" fill="#c0c0c0"/>
<rect x="938" y="607" width="1" height="39" fill="#c0c0c0"/>
<rect x="946" y="610" width="1" height="36" fill="#c0c0c0"/>
<rect x="954" y="611" width="1" height="35" fill="#c0c0c0"/>
<rect x="962" y="613" width="1" height="33" fill="#c0c0c0"/>
<rect x="970" y="613" width="1" height="33" fill="#c0c0c0"/>
<rect x="978" y="617" width="1" height="29" fill="#c0c0c0"/>
<rect x="986" y="620" width="1" height="26" fill="#c0c0c0"/>
<rect x="994" y="623" width="1" height="23" fill="#c0c0c0"/>
<rect x="1002" y="622" width="1" height="24" fill="#c0c0c0"/>
<rect x="1010" y="621" width="1" height="25" fill="#c0c0c0"/>
<rect x="1018" y="618" width="1" height="28" fill="#c0c0c0"/>
<rect x="1026" y="617" width="1" height="29" fill="#c0c0c0"/>
<rect x="1034" y="615" width="1" height="31" fill="#c0c0c0"/>
<rect x="1042" y="613" width="1" height="33" fill="#c0c0c0"/>
<rect x="1050" y="610" width="1" height="36" fill="#c0c0c0"/>
<rect x="1058" y="609" width="1" height="37" fill="#c0c0c0"/>
<rect x="1066" y="611" width="1" height="35" fill="#c0c0c0"/>
<rect x="1074" y="612" width="1" height="34" fill="#c0c0c0"/>
<rect x="1082" y="614" width="1" height="32" fill="#c0c0c0"/>
<rect x="1090" y="619" width="1" height="27" fill="#c0c0c0"/>
<rect x="1098" y="630" width="1" height="16" fill="#c0c0c0"/>
<rect x="1106" y="636" width="1" height="10" fill="#c0c0c0"/>
<rect x="1114" y="646" width="1" height="2" fill="#c0c0c0"/>
<rect x="1122" y="646" width="1" height="11" fill="#c0c0c0"/>
<rect x="1130" y="646" width="1" height="18" fill="#c0c0c0"/>
<rect x="1138" y="646" width="1" height="23" fill="#c0c0c0"/>
<rect x="1146" y="646" width="1" height="27" fill="#c0c0c0"/>
<rect x="1154" y="646" width="1" height="29" fill="#c0c0c0"/>
<rect x="1162" y="646" width="1" height="31" fill="#c0c0c0"/>
<rect x="1170" y="646" width="1" height="34" fill="#c0c0c0"/>
<rect x="1178" y="646" width="1" height="36" fill="#c0c0c0"/>
<rect x="1186" y="646" width="1" height="40" fill="#c0c0c0"/>
<rect x="1194" y="646" width="1" height="44" fill="#c0c0c0"/>
<rect x="1202" y="646" width="1" height="46" fill="#c0c0c0"/>
<rect x="1210" y="646" width="1" height="45" fill="#c0c0c0"/>
<rect x="1218" y="646" width="1" height="44" fill="#c0c0c0"/>
<rect x="1226" y="646" width="1" height="42" fill="#c0c0c0"/>
<rect x="1234" y="646" width="1" height="38" fill="#c0c0c0"/>
<rect x="1242" y="646" width="1" height="33" fill="#c0c0c0"/>
<rect x="1250" y="646" width="1" height="28" fill="#c0c0c0"/>
<rect x="1258" y="646" width="1" height="24" fill="#c0c0c0"/>
<rect x="1266" y="646" width="1" height="21" fill="#c0c0c0"/>
<rect x="1274" y="646" width="1" height="17" fill="#c0c0c0"/>
<rect x="1282" y="646" width="1" height="11" fill="#c0c0c0"/>
<rect x="1290" y="646" width="1" height="10" fill="#c0c0c0"/>
<rect x="1298" y="646" width="1" height="7" fill="#c0c0c0"/>
<rect x="1306" y="646" width="1" height="4" fill="#c0c0c0"/>
<rect x="1314" y="645" width="1" height="1" fill="#c0c0c0"/>
<rect x="1322" y="642" width="1" height="4" fill="#c0c0c0"/>
<rect x="1330" y="640" width="1" height="6" fill="#c0c0c0"/>
<rect x="1338" y="642" width="1" height="4" fill="#c0c0c0"/>
<rect x="1346" y="642" width="1" height="4" fill="#c0c0c0"/>
<rect x="1354" y="645" width="1" height="1" fill="#c0c0c0"/>
<rect x="1370" y="646" width="1" height="1" fill="#c0c0c0"/>
<rect x="1394" y="644" width="1" height="2" fill="#c0c0c0"/>
<rect x="1402" y="643" width="1" height="3" fill="#c0c0c0"/>
<rect x="1410" y="643" width="1" height="3" fill="#c0c0c0"/>
<rect x="1418" y="644" width="1" height="2" fill="#c0c0c0"/>
<rect x="1426" y="645" width="1" height="1" fill="#c0c0c0"/>
</g>
<polyline clip-path="url(#cmacd)" points="-5.5,738.0 2.5,729.5 10.5,720.0 18.5,710.5 26.5,701.0 34.5,692.0 42.5,686.0 50.5,680.5 58.5,676.0 66.5,668.8 74.5,664.1 82.5,659.6 90.5,655.5 98.5,651.6 106.5,647.9 114.5,644.6 122.5,642.0 130.5,640.3 138.5,639.8 146.5,640.1 154.5,640.9 162.5,642.4 170.5,644.2 178.5,646.0 186.5,648.0 194.5,650.0 202.5,651.1 210.5,651.7 218.5,652.1 226.5,652.4 234.5,652.6 242.5,653.3 250.5,654.3 258.5,655.1 266.5,655.7 274.5,656.7 282.5,658.1 290.5,659.6 298.5,661.1 306.5,662.8 314.5,664.4 322.5,665.6 330.5,666.4 338.5,667.2 346.5,667.8 354.5,668.2 362.5,668.1 370.5,667.7 378.5,666.4 386.5,664.3 394.5,662.0 402.5,659.7 410.5,657.4 418.5,654.5 426.5,650.4 434.5,645.3 442.5,639.4 450.5,632.9 458.5,625.7 466.5,618.6 474.5,612.0 482.5,606.4 490.5,602.4 498.5,600.6 506.5,600.6 514.5,601.6 522.5,604.1 530.5,608.1 538.5,613.3 546.5,619.3 554.5,625.6 562.5,630.9 570.5,635.5 578.5,639.7 586.5,643.9 594.5,648.0 602.5,651.8 610.5,654.9 618.5,656.6 626.5,657.2 634.5,657.5 642.5,657.3 650.5,656.6 658.5,655.6 666.5,653.8 674.5,651.5 682.5,648.7 690.5,646.1 698.5,643.8 706.5,641.7 714.5,640.0 722.5,638.5 730.5,637.3 738.5,636.6 746.5,636.3 754.5,636.1 762.5,635.7 770.5,635.0 778.5,634.2 786.5,633.5 794.5,632.7 802.5,632.0 810.5,631.1 818.5,630.0 826.5,628.9 834.5,627.4 842.5,625.7 850.5,623.8 858.5,621.8 866.5,619.5 874.5,617.1 882.5,614.8 890.5,612.8 898.5,611.1 906.5,610.1 914.5,609.5 922.5,609.1 930.5,608.8 938.5,608.7 946.5,608.9 954.5,609.1 962.5,609.4 970.5,609.7 978.5,610.5 986.5,611.8 994.5,613.5 1002.5,615.2 1010.5,616.7 1018.5,617.6 1026.5,618.3 1034.5,618.6 1042.5,618.5 1050.5,617.7 1058.5,616.4 1066.5,615.1 1074.5,614.0 1082.5,613.2 1090.5,613.3 1098.5,614.7 1106.5,617.0 1114.5,620.9 1122.5,626.2 1130.5,632.3 1138.5,638.8 1146.5,645.6 1154.5,652.4 1162.5,658.9 1170.5,664.5 1178.5,669.6 1186.5,673.8 1194.5,677.4 1202.5,680.5 1210.5,682.9 1218.5,684.8 1226.5,686.3 1234.5,687.0 1242.5,686.9 1250.5,686.0 1258.5,684.2 1266.5,681.7 1274.5,678.5 1282.5,674.7 1290.5,670.9 1298.5,667.0 1306.5,663.2 1314.5,659.5 1322.5,656.0 1330.5,652.6 1338.5,649.9 1346.5,647.6 1354.5,646.2 1362.5,645.0 1370.5,644.3 1378.5,643.9 1386.5,644.0 1394.5,644.1 1402.5,644.4 1410.5,644.6 1418.5,644.8 1426.5,644.8 1434.5,644.8" fill="none" stroke="#ff0000" stroke-width="1" stroke-dasharray="3,2.5" shape-rendering="crispEdges"/>
<g shape-rendering="crispEdges" fill="none" stroke="#c0c0c0" stroke-width="1" stroke-dasharray="3,3">
<path d="M1,785.5H1684"/>
<path d="M1,836.5H1684"/>
<path d="M1,897.5H1684"/>
</g>
<polyline clip-path="url(#crsi)" points="-5.5,839.0 2.5,839.0 10.5,842.2 18.5,835.4 26.5,841.7 34.5,841.7 42.5,837.2 50.5,833.1 58.5,827.2 66.5,827.1 74.5,827.1 82.5,829.2 90.5,825.5 98.5,830.7 106.5,829.9 114.5,834.2 122.5,833.4 130.5,838.8 138.5,851.8 146.5,847.6 154.5,846.4 162.5,849.2 170.5,845.8 178.5,841.9 186.5,847.5 194.5,844.6 202.5,822.9 210.5,839.1 218.5,843.3 226.5,844.6 234.5,847.4 242.5,859.6 250.5,851.3 258.5,843.3 266.5,839.8 274.5,840.6 282.5,852.3 290.5,855.6 298.5,850.0 306.5,860.0 314.5,862.7 322.5,847.0 330.5,836.7 338.5,840.8 346.5,841.7 354.5,846.6 362.5,843.0 370.5,842.0 378.5,830.7 386.5,834.4 394.5,830.6 402.5,828.0 410.5,827.2 418.5,815.5 426.5,799.8 434.5,799.1 442.5,796.6 450.5,791.1 458.5,789.0 466.5,805.6 474.5,816.5 482.5,825.7 490.5,839.2 498.5,839.9 506.5,839.4 514.5,827.3 522.5,833.2 530.5,840.7 538.5,848.8 546.5,854.2 554.5,855.1 562.5,840.3 570.5,842.7 578.5,845.8 586.5,843.2 594.5,849.4 602.5,848.9 610.5,847.8 618.5,835.1 626.5,834.7 634.5,833.1 642.5,832.1 650.5,831.0 658.5,832.0 666.5,824.0 674.5,820.2 682.5,822.3 690.5,824.5 698.5,824.9 706.5,829.9 714.5,828.2 722.5,831.3 730.5,829.3 738.5,835.2 746.5,831.3 754.5,816.9 762.5,813.4 770.5,809.3 778.5,817.1 786.5,825.1 794.5,824.6 802.5,823.2 810.5,820.9 818.5,814.2 826.5,803.8 834.5,793.3 842.5,792.8 850.5,792.8 858.5,803.3 866.5,800.1 874.5,798.7 882.5,808.7 890.5,811.3 898.5,806.0 906.5,802.1 914.5,798.5 922.5,794.7 930.5,802.4 938.5,800.7 946.5,816.7 954.5,810.7 962.5,818.5 970.5,811.4 978.5,830.4 986.5,829.4 994.5,830.7 1002.5,814.6 1010.5,814.9 1018.5,806.5 1026.5,809.4 1034.5,806.6 1042.5,800.6 1050.5,798.6 1058.5,801.6 1066.5,820.7 1074.5,815.9 1082.5,821.3 1090.5,834.9 1098.5,858.9 1106.5,850.5 1114.5,865.0 1122.5,866.4 1130.5,863.5 1138.5,864.2 1146.5,864.5 1154.5,859.0 1162.5,861.8 1170.5,867.0 1178.5,865.9 1186.5,872.9 1194.5,875.0 1202.5,874.7 1210.5,864.2 1218.5,864.9 1226.5,859.2 1234.5,844.7 1242.5,841.9 1250.5,838.4 1258.5,841.2 1266.5,836.7 1274.5,835.2 1282.5,823.2 1290.5,840.1 1298.5,830.8 1306.5,827.3 1314.5,821.8 1322.5,823.5 1330.5,823.4 1338.5,840.2 1346.5,835.1 1354.5,845.1 1362.5,840.6 1370.5,840.7 1378.5,837.1 1386.5,835.6 1394.5,825.3 1402.5,830.0 1410.5,838.9 1418.5,836.8 1426.5,840.0 1434.5,842.2" fill="none" stroke="#1e90ff" stroke-width="1" shape-rendering="crispEdges"/>
<g shape-rendering="crispEdges" fill="#000">
<rect x="1685" y="45" width="2" height="1"/>
<rect x="1685" y="78" width="2" height="1"/>
<rect x="1685" y="111" width="2" height="1"/>
<rect x="1685" y="144" width="2" height="1"/>
<rect x="1685" y="177" width="2" height="1"/>
<rect x="1685" y="210" width="2" height="1"/>
<rect x="1685" y="242" width="2" height="1"/>
<rect x="1685" y="275" width="2" height="1"/>
<rect x="1685" y="308" width="2" height="1"/>
<rect x="1685" y="341" width="2" height="1"/>
<rect x="1685" y="374" width="2" height="1"/>
<rect x="1685" y="407" width="2" height="1"/>
<rect x="1685" y="440" width="2" height="1"/>
<rect x="1685" y="473" width="2" height="1"/>
<rect x="1685" y="506" width="2" height="1"/>
<rect x="1685" y="539" width="2" height="1"/>
<rect x="1685" y="572" width="2" height="1"/>
<rect x="1685" y="579" width="2" height="1"/>
<rect x="1685" y="645" width="2" height="1"/>
<rect x="1685" y="746" width="2" height="1"/>
<rect x="1685" y="751" width="2" height="1"/>
<rect x="58" y="924" width="1" height="3"/>
<rect x="122" y="924" width="1" height="3"/>
<rect x="186" y="924" width="1" height="3"/>
<rect x="250" y="924" width="1" height="3"/>
<rect x="314" y="924" width="1" height="3"/>
<rect x="378" y="924" width="1" height="3"/>
<rect x="442" y="924" width="1" height="3"/>
<rect x="506" y="924" width="1" height="3"/>
<rect x="570" y="924" width="1" height="3"/>
<rect x="634" y="924" width="1" height="3"/>
<rect x="698" y="924" width="1" height="3"/>
<rect x="762" y="924" width="1" height="3"/>
<rect x="826" y="924" width="1" height="3"/>
<rect x="890" y="924" width="1" height="3"/>
<rect x="954" y="924" width="1" height="3"/>
<rect x="1018" y="924" width="1" height="3"/>
<rect x="1082" y="924" width="1" height="3"/>
<rect x="1146" y="924" width="1" height="3"/>
<rect x="1210" y="924" width="1" height="3"/>
<rect x="1274" y="924" width="1" height="3"/>
<rect x="1338" y="924" width="1" height="3"/>
<rect x="1402" y="924" width="1" height="3"/>
</g>
<g>
<text x="1690.5" y="49" font-size="10.5" fill="#000" text-anchor="start" textLength="32.4" lengthAdjust="spacingAndGlyphs">142.835</text>
<text x="1690.5" y="82" font-size="10.5" fill="#000" text-anchor="start" textLength="32.4" lengthAdjust="spacingAndGlyphs">141.985</text>
<text x="1690.5" y="115" font-size="10.5" fill="#000" text-anchor="start" textLength="32.4" lengthAdjust="spacingAndGlyphs">141.135</text>
<text x="1690.5" y="148" font-size="10.5" fill="#000" text-anchor="start" textLength="32.4" lengthAdjust="spacingAndGlyphs">140.285</text>
<text x="1690.5" y="181" font-size="10.5" fill="#000" text-anchor="start" textLength="32.4" lengthAdjust="spacingAndGlyphs">139.435</text>
<text x="1690.5" y="214" font-size="10.5" fill="#000" text-anchor="start" textLength="32.4" lengthAdjust="spacingAndGlyphs">138.585</text>
<text x="1690.5" y="247" font-size="10.5" fill="#000" text-anchor="start" textLength="32.4" lengthAdjust="spacingAndGlyphs">137.735</text>
<text x="1690.5" y="280" font-size="10.5" fill="#000" text-anchor="start" textLength="32.4" lengthAdjust="spacingAndGlyphs">136.885</text>
<text x="1690.5" y="313" font-size="10.5" fill="#000" text-anchor="start" textLength="32.4" lengthAdjust="spacingAndGlyphs">136.035</text>
<text x="1690.5" y="346" font-size="10.5" fill="#000" text-anchor="start" textLength="32.4" lengthAdjust="spacingAndGlyphs">135.185</text>
<text x="1690.5" y="379" font-size="10.5" fill="#000" text-anchor="start" textLength="32.4" lengthAdjust="spacingAndGlyphs">134.335</text>
<text x="1690.5" y="412" font-size="10.5" fill="#000" text-anchor="start" textLength="32.4" lengthAdjust="spacingAndGlyphs">133.485</text>
<text x="1690.5" y="445" font-size="10.5" fill="#000" text-anchor="start" textLength="32.4" lengthAdjust="spacingAndGlyphs">132.635</text>
<text x="1690.5" y="478" font-size="10.5" fill="#000" text-anchor="start" textLength="32.4" lengthAdjust="spacingAndGlyphs">131.785</text>
<text x="1690.5" y="511" font-size="10.5" fill="#000" text-anchor="start" textLength="32.4" lengthAdjust="spacingAndGlyphs">130.935</text>
<text x="1690.5" y="544" font-size="10.5" fill="#000" text-anchor="start" textLength="32.4" lengthAdjust="spacingAndGlyphs">130.085</text>
<text x="1690.5" y="577" font-size="10.5" fill="#000" text-anchor="start" textLength="32.4" lengthAdjust="spacingAndGlyphs">129.235</text>
<text x="1688.8" y="588" font-size="10.5" fill="#000" text-anchor="start" textLength="27" lengthAdjust="spacingAndGlyphs">1.8521</text>
<text x="1688.8" y="649" font-size="10.5" fill="#000" text-anchor="start" textLength="17" lengthAdjust="spacingAndGlyphs">0.00</text>
<text x="1686.5" y="744" font-size="10.5" fill="#000" text-anchor="start" textLength="31" lengthAdjust="spacingAndGlyphs">-2.8393</text>
<text x="1687" y="760" font-size="10.5" fill="#000" text-anchor="start" textLength="16" lengthAdjust="spacingAndGlyphs">100</text>
<text x="1687" y="789" font-size="10.5" fill="#000" text-anchor="start" textLength="11" lengthAdjust="spacingAndGlyphs">80</text>
<text x="1687" y="840" font-size="10.5" fill="#000" text-anchor="start" textLength="11" lengthAdjust="spacingAndGlyphs">50</text>
<text x="1687" y="901" font-size="10.5" fill="#000" text-anchor="start" textLength="11" lengthAdjust="spacingAndGlyphs">15</text>
<text x="1687" y="920" font-size="10.5" fill="#000" text-anchor="start" textLength="5.5" lengthAdjust="spacingAndGlyphs">0</text>
<text x="-8.349113671875003" y="937" font-size="10.5" fill="#000" text-anchor="start" textLength="53.3" lengthAdjust="spacingAndGlyphs">30 Mar 2020</text>
<text x="57" y="937" font-size="10.5" fill="#000" text-anchor="start" textLength="46.0" lengthAdjust="spacingAndGlyphs">8 Apr 2020</text>
<text x="121" y="937" font-size="10.5" fill="#000" text-anchor="start" textLength="51.2" lengthAdjust="spacingAndGlyphs">19 Apr 2020</text>
<text x="185" y="937" font-size="10.5" fill="#000" text-anchor="start" textLength="51.2" lengthAdjust="spacingAndGlyphs">28 Apr 2020</text>
<text x="249" y="937" font-size="10.5" fill="#000" text-anchor="start" textLength="49.7" lengthAdjust="spacingAndGlyphs">7 May 2020</text>
<text x="313" y="937" font-size="10.5" fill="#000" text-anchor="start" textLength="54.9" lengthAdjust="spacingAndGlyphs">17 May 2020</text>
<text x="377" y="937" font-size="10.5" fill="#000" text-anchor="start" textLength="54.9" lengthAdjust="spacingAndGlyphs">26 May 2020</text>
<text x="441" y="937" font-size="10.5" fill="#000" text-anchor="start" textLength="47.0" lengthAdjust="spacingAndGlyphs">4 Jun 2020</text>
<text x="505" y="937" font-size="10.5" fill="#000" text-anchor="start" textLength="52.3" lengthAdjust="spacingAndGlyphs">14 Jun 2020</text>
<text x="569" y="937" font-size="10.5" fill="#000" text-anchor="start" textLength="52.3" lengthAdjust="spacingAndGlyphs">23 Jun 2020</text>
<text x="633" y="937" font-size="10.5" fill="#000" text-anchor="start" textLength="43.8" lengthAdjust="spacingAndGlyphs">2 Jul 2020</text>
<text x="697" y="937" font-size="10.5" fill="#000" text-anchor="start" textLength="49.1" lengthAdjust="spacingAndGlyphs">12 Jul 2020</text>
<text x="761" y="937" font-size="10.5" fill="#000" text-anchor="start" textLength="49.1" lengthAdjust="spacingAndGlyphs">21 Jul 2020</text>
<text x="825" y="937" font-size="10.5" fill="#000" text-anchor="start" textLength="49.1" lengthAdjust="spacingAndGlyphs">30 Jul 2020</text>
<text x="889" y="937" font-size="10.5" fill="#000" text-anchor="start" textLength="48.1" lengthAdjust="spacingAndGlyphs">9 Aug 2020</text>
<text x="953" y="937" font-size="10.5" fill="#000" text-anchor="start" textLength="53.4" lengthAdjust="spacingAndGlyphs">18 Aug 2020</text>
<text x="1017" y="937" font-size="10.5" fill="#000" text-anchor="start" textLength="53.4" lengthAdjust="spacingAndGlyphs">27 Aug 2020</text>
<text x="1081" y="937" font-size="10.5" fill="#000" text-anchor="start" textLength="48.6" lengthAdjust="spacingAndGlyphs">6 Sep 2020</text>
<text x="1145" y="937" font-size="10.5" fill="#000" text-anchor="start" textLength="53.9" lengthAdjust="spacingAndGlyphs">15 Sep 2020</text>
<text x="1209" y="937" font-size="10.5" fill="#000" text-anchor="start" textLength="53.9" lengthAdjust="spacingAndGlyphs">24 Sep 2020</text>
<text x="1273" y="937" font-size="10.5" fill="#000" text-anchor="start" textLength="46.5" lengthAdjust="spacingAndGlyphs">4 Oct 2020</text>
<text x="1337" y="937" font-size="10.5" fill="#000" text-anchor="start" textLength="51.8" lengthAdjust="spacingAndGlyphs">13 Oct 2020</text>
<text x="1401" y="937" font-size="10.5" fill="#000" text-anchor="start" textLength="51.8" lengthAdjust="spacingAndGlyphs">22 Oct 2020</text>
</g>
<g shape-rendering="crispEdges">
<rect x="1686" y="193" width="41" height="11" fill="#ff0000"/>
<text x="1690.4" y="203" font-size="10.5" fill="#fff" text-anchor="start" textLength="32.4" lengthAdjust="spacingAndGlyphs">138.854</text>
<rect x="1686" y="223" width="41" height="11" fill="#ff0000"/>
<text x="1690.4" y="233" font-size="10.5" fill="#fff" text-anchor="start" textLength="32.4" lengthAdjust="spacingAndGlyphs">138.080</text>
<rect x="1686" y="264" width="41" height="11" fill="#32cd32"/>
<text x="1690.4" y="274" font-size="10.5" fill="#fff" text-anchor="start" textLength="32.4" lengthAdjust="spacingAndGlyphs">137.020</text>
<rect x="1686" y="294" width="41" height="11" fill="#000000"/>
<text x="1690.4" y="304" font-size="10.5" fill="#fff" text-anchor="start" textLength="32.4" lengthAdjust="spacingAndGlyphs">136.253</text>
<rect x="1686" y="327" width="41" height="11" fill="#0000ff"/>
<text x="1690.4" y="337" font-size="10.5" fill="#fff" text-anchor="start" textLength="32.4" lengthAdjust="spacingAndGlyphs">135.391</text>
<rect x="1686" y="352" width="41" height="11" fill="#0000ff"/>
<text x="1690.4" y="362" font-size="10.5" fill="#fff" text-anchor="start" textLength="32.4" lengthAdjust="spacingAndGlyphs">134.746</text>
<rect x="1679.5" y="356.5" width="4" height="4" fill="#fff" stroke="#0000ff" stroke-width="1"/>
</g>
<text x="-2" y="591" font-size="9.9" fill="#000" text-anchor="start" textLength="131" lengthAdjust="spacingAndGlyphs">MACD(12,26,9) -0.0122 0.0196</text>
<text x="-1.5" y="763" font-size="9.9" fill="#000" text-anchor="start" textLength="67.5" lengthAdjust="spacingAndGlyphs">RSI(14) 46.5487</text>
<path d="M0,28 L4,33 L0,33 Z" fill="#000"/>
<text x="9.5" y="34" font-size="9.8" fill="#000" text-anchor="start" textLength="62" lengthAdjust="spacingAndGlyphs">GBPJPY-,Daily</text>
<text x="78.5" y="34" font-size="9.8" fill="#000" text-anchor="start" textLength="140" lengthAdjust="spacingAndGlyphs">136.418 136.576 136.136 136.253</text>
<rect x="379.5" y="156.5" width="61" height="18" fill="#fff" stroke="#ff0000" stroke-width="1" shape-rendering="crispEdges"/>
<text x="410.0" y="172" font-size="16" fill="#ff0000" text-anchor="middle" textLength="57" lengthAdjust="spacingAndGlyphs">139.715</text>
<path d="M441,165.5H450.5V166" stroke="#ff0000" fill="none" shape-rendering="crispEdges"/>
<rect x="979.5" y="42.5" width="61" height="18" fill="#fff" stroke="#ff0000" stroke-width="1" shape-rendering="crispEdges"/>
<text x="1010.0" y="58" font-size="16" fill="#ff0000" text-anchor="middle" textLength="57" lengthAdjust="spacingAndGlyphs">142.659</text>
<path d="M1041,51.5H1050" stroke="#ff0000" fill="none" shape-rendering="crispEdges"/>
<rect x="483.5" y="466.5" width="61" height="18" fill="#fff" stroke="#ff0000" stroke-width="1" shape-rendering="crispEdges"/>
<text x="514.0" y="482" font-size="16" fill="#ff0000" text-anchor="middle" textLength="57" lengthAdjust="spacingAndGlyphs">131.734</text>
<path d="M545,475.5H555" stroke="#ff0000" fill="none" shape-rendering="crispEdges"/>
<rect x="1123.5" y="415.5" width="61" height="18" fill="#fff" stroke="#ff0000" stroke-width="1" shape-rendering="crispEdges"/>
<text x="1154.0" y="431" font-size="16" fill="#ff0000" text-anchor="middle" textLength="57" lengthAdjust="spacingAndGlyphs">133.029</text>
<path d="M1185,424.5H1194" stroke="#ff0000" fill="none" shape-rendering="crispEdges"/>
<rect x="1005.5" y="258.5" width="73" height="24" fill="#fff" stroke="#ff0000" stroke-width="1" shape-rendering="crispEdges"/>
<text x="1042.0" y="279" font-size="22.5" fill="#ff0000" text-anchor="middle" textLength="69" lengthAdjust="spacingAndGlyphs" stroke="#ff0000" stroke-width="0.55">137.020</text>
<path d="M995,270.5H1005" stroke="#ff0000" fill="none" shape-rendering="crispEdges"/>
<rect x="1237" y="265" width="242" height="7" fill="#00ff00"/>
<line x1="1397" y1="250" x2="1459" y2="322" stroke="#ff0000" stroke-width="3.2"/>
<path d="M1463.5,328.5 L1452,323 L1460.5,315.5 Z" fill="#ff0000"/>
<g fill="none" stroke="#00ff00" stroke-width="1.15" stroke-linecap="square" stroke-linejoin="miter" shape-rendering="crispEdges"><path d="M1453.5,243.5L1445.5,249.4"/><path d="M1452,246.3H1460.4L1451.8,252.6"/><path d="M1450.5,247.5L1452.5,250.5"/><path d="M1451.8,251.2L1444.9,253.8"/><path d="M1453.5,254.3L1461.5,254L1444.9,261.6"/><path d="M1450.5,255.5L1452,258"/><path d="M1474,243.2L1476,245.3"/><path d="M1467.7,248.5V246.3H1484.4L1483.5,248.2"/><path d="M1473.3,248L1467,252.6"/><path d="M1477.1,248L1483,251.5"/><path d="M1469.1,253.6H1481.6"/><path d="M1475.4,253.6V260.5"/><path d="M1466.3,260.5H1484.7"/><path d="M1488,246.3H1495.7"/><path d="M1492.1,243.3L1489.6,251.3H1496"/><path d="M1492.5,248.1V261.9"/><path d="M1487.6,257.4L1496.5,255.4"/><path d="M1496.9,247.3L1505.8,246.5"/><path d="M1501.4,243.3L1499.7,255"/><path d="M1494.9,251.3L1507,250.9"/><path d="M1497.3,254.6H1505L1501.4,257.8"/><path d="M1497.3,257.4L1503.8,261.5"/><path d="M1510.3,248.5L1518,248.3"/><path d="M1514.7,243.3V261L1511.5,260.6"/><path d="M1510.3,254.2L1518,251.3"/><path d="M1527.2,244.1L1519.6,245.3V255L1515.5,261.5"/><path d="M1519.6,250.1H1528.9"/><path d="M1524.8,250.1V261.9"/><path d="M1541.4,243.3V250.9"/><path d="M1541.4,246.5H1549.5"/><path d="M1536.1,250.5H1546.7V255.4H1536.1Z"/><path d="M1535.3,258.2L1533.3,261.5"/><path d="M1538.6,258.2L1540.2,260.2"/><path d="M1543.4,258.2L1544.6,260.2"/><path d="M1547.9,257.8L1549.5,260.6"/></g>
<defs>
<linearGradient id="gtab" x1="0" y1="0" x2="0" y2="1"><stop offset="0" stop-color="#5a5aff"/><stop offset="1" stop-color="#2f2fd8"/></linearGradient>
<linearGradient id="gprice" x1="0" y1="0" x2="0" y2="1"><stop offset="0" stop-color="#3a3ae6"/><stop offset="1" stop-color="#0000a8"/></linearGradient>
<linearGradient id="gbtn" x1="0" y1="0" x2="0" y2="1"><stop offset="0" stop-color="#f2f2f2"/><stop offset="0.45" stop-color="#e6e6e6"/><stop offset="0.5" stop-color="#d8d8d8"/><stop offset="1" stop-color="#d0d0d0"/></linearGradient>
</defs>
<g shape-rendering="crispEdges">
<rect x="0" y="42" width="49" height="25" fill="url(#gtab)"/>
<rect x="0" y="42" width="49" height="1" fill="#0000a0"/><rect x="48" y="42" width="1" height="25" fill="#0000a0"/>
<rect x="1" y="66" width="44" height="1" fill="#0000a0"/>
<rect x="164" y="42" width="52" height="25" fill="url(#gtab)"/>
<rect x="164" y="42" width="52" height="1" fill="#0000a0"/><rect x="164" y="42" width="1" height="25" fill="#0000a0"/><rect x="215" y="42" width="1" height="25" fill="#0000a0"/>
<rect x="168" y="66" width="44" height="1" fill="#0000a0"/>
<rect x="0" y="67" width="106" height="39" fill="url(#gprice)"/>
<rect x="108" y="67" width="108" height="39" fill="url(#gprice)"/>
<rect x="51" y="42" width="111" height="22" fill="#fff" stroke="#a8a8a8" stroke-width="1"/>
<rect x="52" y="43" width="20" height="20" fill="url(#gbtn)" stroke="#b8b8b8"/>
<rect x="141" y="43" width="20" height="20" fill="url(#gbtn)" stroke="#b8b8b8"/>
</g>
<path d="M58.5,51 L64.5,51 L61.5,54 Z" fill="#4a64b4"/>
<path d="M147.5,54 L153.5,54 L150.5,51 Z" fill="#4a64b4"/>
<text x="9.7" y="58" font-size="12" fill="#fff" text-anchor="start" textLength="25.3" lengthAdjust="spacingAndGlyphs">SELL</text>
<text x="178" y="58" font-size="12" fill="#fff" text-anchor="start" textLength="23" lengthAdjust="spacingAndGlyphs">BUY</text>
<text x="113.8" y="57" font-size="12" fill="#000" text-anchor="start" textLength="22.8" lengthAdjust="spacingAndGlyphs">1.00</text>
<text x="20.9" y="97" font-size="12" fill="#fff" text-anchor="start" textLength="20" lengthAdjust="spacingAndGlyphs" font-weight="bold">136</text>
<text x="45.5" y="97" font-size="35" fill="#fff" text-anchor="start" textLength="33" lengthAdjust="spacingAndGlyphs" stroke="#2424c8" stroke-width="0.5">25</text>
<text x="84.7" y="81" font-size="12" fill="#fff" text-anchor="start" textLength="6.3" lengthAdjust="spacingAndGlyphs" font-weight="bold">3</text>
<text x="131" y="97" font-size="12" fill="#fff" text-anchor="start" textLength="20" lengthAdjust="spacingAndGlyphs" font-weight="bold">136</text>
<text x="157.1" y="97" font-size="35" fill="#fff" text-anchor="start" textLength="33" lengthAdjust="spacingAndGlyphs" stroke="#2424c8" stroke-width="0.5">30</text>
<text x="195.9" y="81" font-size="12" fill="#fff" text-anchor="start" textLength="6" lengthAdjust="spacingAndGlyphs" font-weight="bold">1</text>
<rect x="1730" y="20" width="1" height="918" fill="#e4e4e4"/>
<g id="tbicons"><defs><linearGradient id="ggold" x1="0" y1="0" x2="1" y2="1"><stop offset="0" stop-color="#f8dc50"/><stop offset="1" stop-color="#b8860b"/></linearGradient><radialGradient id="gmag" cx="0.4" cy="0.4" r="0.6"><stop offset="0" stop-color="#ffffff"/><stop offset="1" stop-color="#bcd8f0"/></radialGradient><linearGradient id="ggreen" x1="0" y1="0" x2="0" y2="1"><stop offset="0" stop-color="#6ef06e"/><stop offset="1" stop-color="#10a010"/></linearGradient></defs><rect x="45" y="0" width="1" height="16" fill="#a0a0a0" shape-rendering="crispEdges"/><rect x="281" y="0" width="1" height="16" fill="#a0a0a0" shape-rendering="crispEdges"/><rect x="376" y="0" width="1" height="16" fill="#a0a0a0" shape-rendering="crispEdges"/><rect x="466" y="0" width="1" height="16" fill="#a0a0a0" shape-rendering="crispEdges"/><rect x="471" y="0" width="1" height="16" fill="#a0a0a0" shape-rendering="crispEdges"/><rect x="499" y="0" width="1" height="16" fill="#a0a0a0" shape-rendering="crispEdges"/><rect x="528" y="0" width="1" height="16" fill="#a0a0a0" shape-rendering="crispEdges"/><rect x="649" y="0" width="1" height="16" fill="#a0a0a0" shape-rendering="crispEdges"/><rect x="659" y="0" width="1" height="16" fill="#a0a0a0" shape-rendering="crispEdges"/><rect x="716" y="0" width="1" height="16" fill="#a0a0a0" shape-rendering="crispEdges"/><rect x="954" y="0" width="1" height="16" fill="#a0a0a0" shape-rendering="crispEdges"/><rect x="1133" y="0" width="1" height="16" fill="#a0a0a0" shape-rendering="crispEdges"/><rect x="1216" y="0" width="1" height="16" fill="#a0a0a0" shape-rendering="crispEdges"/><rect x="285" y="1" width="3" height="1" fill="#b4b4b4" shape-rendering="crispEdges"/><rect x="285" y="3" width="3" height="1" fill="#b4b4b4" shape-rendering="crispEdges"/><rect x="285" y="5" width="3" height="1" fill="#b4b4b4" shape-rendering="crispEdges"/><rect x="285" y="7" width="3" height="1" fill="#b4b4b4" shape-rendering="crispEdges"/><rect x="285" y="9" width="3" height="1" fill="#b4b4b4" shape-rendering="crispEdges"/><rect x="285" y="11" width="3" height="1" fill="#b4b4b4" shape-rendering="crispEdges"/><rect x="285" y="13" width="3" height="1" fill="#b4b4b4" shape-rendering="crispEdges"/><rect x="653" y="1" width="3" height="1" fill="#b4b4b4" shape-rendering="crispEdges"/><rect x="653" y="3" width="3" height="1" fill="#b4b4b4" shape-rendering="crispEdges"/><rect x="653" y="5" width="3" height="1" fill="#b4b4b4" shape-rendering="crispEdges"/><rect x="653" y="7" width="3" height="1" fill="#b4b4b4" shape-rendering="crispEdges"/><rect x="653" y="9" width="3" height="1" fill="#b4b4b4" shape-rendering="crispEdges"/><rect x="653" y="11" width="3" height="1" fill="#b4b4b4" shape-rendering="crispEdges"/><rect x="653" y="13" width="3" height="1" fill="#b4b4b4" shape-rendering="crispEdges"/><rect x="958" y="1" width="3" height="1" fill="#b4b4b4" shape-rendering="crispEdges"/><rect x="958" y="3" width="3" height="1" fill="#b4b4b4" shape-rendering="crispEdges"/><rect x="958" y="5" width="3" height="1" fill="#b4b4b4" shape-rendering="crispEdges"/><rect x="958" y="7" width="3" height="1" fill="#b4b4b4" shape-rendering="crispEdges"/><rect x="958" y="9" width="3" height="1" fill="#b4b4b4" shape-rendering="crispEdges"/><rect x="958" y="11" width="3" height="1" fill="#b4b4b4" shape-rendering="crispEdges"/><rect x="958" y="13" width="3" height="1" fill="#b4b4b4" shape-rendering="crispEdges"/><rect x="320" y="0" width="24" height="16" fill="#f7f7f7"/><rect x="472" y="0" width="24" height="16" fill="#f7f7f7"/><rect x="500" y="0" width="24" height="16" fill="#f7f7f7"/><rect x="660" y="0" width="24" height="16" fill="#f7f7f7"/><rect x="1134" y="0" width="25" height="16" fill="#f7f7f7"/><rect x="-1" y="-2" width="8.5" height="14.5" fill="#fff" stroke="#3a7bd5" stroke-width="1"/><rect x="0" y="2" width="7" height="1" fill="#a8c8f0"/><rect x="0" y="4" width="7" height="1" fill="#a8c8f0"/><rect x="0" y="6" width="7" height="1" fill="#a8c8f0"/><rect x="0" y="8" width="7" height="1" fill="#a8c8f0"/><rect x="20.5" y="-2" width="12" height="13.5" fill="#fbfbf8" stroke="#9a9a8a" stroke-width="1"/><circle cx="28.3" cy="6.5" r="5" fill="url(#gmag)" stroke="#6a9ad8" stroke-width="1"/><line x1="32.5" y1="10.5" x2="36.5" y2="14.5" stroke="#c89a10" stroke-width="2.2"/><path d="M55.5,-2H64L66.5,1V11.5H55.5Z" fill="#fff" stroke="#808080" stroke-width="1"/><rect x="57" y="4" width="6" height="1" fill="#909090"/><rect x="57" y="6" width="5" height="1" fill="#909090"/><path d="M63,4.5h4v4h4v4h-4v4h-4v-4h-4v-4h4z" fill="url(#ggreen)" stroke="#0a8a0a" stroke-width="0.8"/><g fill="none" stroke="#000" stroke-width="1.1"><path d="M74,1.5H80M74.5,3.5H80M74,5.5H80.5M77.2,3.5V9.7M76,6.5L74,9M78.5,6.5L80.5,8.5M75.5,0.5L76.5,1.5M78.5,0.5L77.5,1.5"/><path d="M81,3.5H87M82.5,0.5V6.5L81,9.7M85.2,3.5V9.7M82.5,0.5L87,-0.5"/><path d="M88,0.5L89,1.5M88.2,3.5H89.5V8.5L90.5,9.5"/><path d="M90.5,0.5H97.5M94.4,0.5V9.7H92"/><path d="M99.5,1.5H109V5.5H99.5ZM99.5,3.5H109M104.2,0V9.8M98,7.5H110"/></g><path d="M128,0 L137,6 L132,14 L122,8 Z" fill="url(#ggold)" stroke="#a07010" stroke-width="0.8"/><path d="M123,9 L132,14.5" stroke="#8a6008" stroke-width="1"/><rect x="152" y="-2" width="9" height="10" fill="#3aa0f0" stroke="#1e70c8" stroke-width="0.8"/><rect x="153.5" y="2" width="6" height="1.2" fill="#fff"/><rect x="153.5" y="5" width="6" height="1.2" fill="#fff"/><path d="M151,13.5 Q149,13.5 150,11 Q151,9 153.5,9.5 Q155,6.5 158.5,7.5 Q161,6 163,8.5 Q166.5,9 166,12 Q165.5,13.5 164,13.5 Z" fill="#eef2f8" stroke="#6a7a98" stroke-width="0.9"/><g fill="none" stroke-width="1"><path d="M181.5,11 A6,6 0 0 1 181.5,0" stroke="#6a90d8"/><path d="M183.3,9 A3.5,3.5 0 0 1 183.3,2" stroke="#6a90d8"/><path d="M190.5,0 A6.5,6.5 0 0 1 188,13" stroke="#70b070" stroke-width="1.6"/><path d="M188.5,2 A3.5,3.5 0 0 1 188.5,9" stroke="#90c090"/></g><circle cx="186.2" cy="5.5" r="1.6" fill="#2a5ad0"/><rect x="186" y="6" width="1.4" height="8" fill="#20a020"/><path d="M206,6 L221,4.5 L214,14 Z" fill="#f6e060" stroke="#c8a820" stroke-width="0.8"/><ellipse cx="214" cy="2.5" rx="8" ry="3.2" fill="#58b8e8" stroke="#2a88c0" stroke-width="0.8"/><circle cx="217.2" cy="9.6" r="4.3" fill="#e02010"/><rect x="216" y="8.4" width="2.4" height="2.4" fill="#fff"/><g fill="none" stroke="#000" stroke-width="1.1"><path d="M227.6,-1V9.8M236,-1V9.8M227.6,1.4H236M227.6,4.2H236M227.6,6.9H236M227.6,9.2H236"/><path d="M238.5,1H243.5M238,3.3H244M240.5,3.3L238.5,8.8L243.5,8M242,6.5L243.5,9M244.5,2.5H248.3V9.5L246.5,9.5M246,0V3L244.8,9.5"/><path d="M255.5,-1V1.3M250,1.35H261.5M253,3.5L250.5,5.5M258,3.5L261,5.5M252,5.5L259.5,10M259.5,5.5L250.5,10"/><path d="M264,-1V3.5H271.5V-1M264,1.3H271.5M263,5.5H271.8V9L270,10M265.5,3.5L262.5,8M266.5,5.5L263.5,10M269,5.5L266,10"/></g><rect x="299" y="0" width="1" height="14" fill="#505050"/><rect x="297" y="11" width="14" height="1" fill="#505050"/><path d="M310,9.5 L312.5,11.5 L310,13.5Z" fill="#505050"/><path d="M297.5,1.5 L299.5,-0.5 L301.5,1.5Z" fill="#505050"/><rect x="305" y="2" width="1" height="7" fill="#20a020"/><rect x="306" y="2" width="2" height="1" fill="#20a020"/><rect x="303" y="8" width="2" height="1" fill="#20a020"/><rect x="327" y="0" width="1" height="14" fill="#505050"/><rect x="325" y="11" width="14" height="1" fill="#505050"/><path d="M338,9.5 L340.5,11.5 L338,13.5Z" fill="#505050"/><path d="M325.5,1.5 L327.5,-0.5 L329.5,1.5Z" fill="#505050"/><rect x="331" y="-1" width="5" height="8" fill="url(#ggreen)" stroke="#108010" stroke-width="0.8"/><rect x="333" y="7" width="1" height="3" fill="#108010"/><rect x="355" y="0" width="1" height="14" fill="#505050"/><rect x="353" y="11" width="14" height="1" fill="#505050"/><path d="M366,9.5 L368.5,11.5 L366,13.5Z" fill="#505050"/><path d="M353.5,1.5 L355.5,-0.5 L357.5,1.5Z" fill="#505050"/><path d="M354.3,8.3 Q359,2 360.5,3.1 Q362.5,3.5 366,7.3" fill="none" stroke="#20a020" stroke-width="1"/><circle cx="390.7" cy="4.2" r="5" fill="url(#gmag)" stroke="#3a80d0" stroke-width="1.2"/><line x1="395.0" y1="8.3" x2="399.7" y2="13" stroke="#c8a010" stroke-width="2.4"/><circle cx="419.3" cy="4.2" r="5" fill="url(#gmag)" stroke="#3a80d0" stroke-width="1.2"/><line x1="423.6" y1="8.3" x2="428.3" y2="13" stroke="#c8a010" stroke-width="2.4"/><rect x="388" y="3.6" width="5.4" height="1.4" fill="#2a6ac8"/><rect x="390" y="1.5" width="1.4" height="5.5" fill="#2a6ac8"/><rect x="416.6" y="3.6" width="5.4" height="1.4" fill="#2a6ac8"/><rect x="441" y="-1" width="7.5" height="7" fill="#30a830"/><rect x="449" y="-1" width="7.5" height="7" fill="#2a6ad8"/><rect x="441" y="6.5" width="7.5" height="7" fill="#2a6ad8"/><rect x="449" y="6.5" width="7.5" height="7" fill="#30a830"/><rect x="443" y="1.5" width="3.5" height="2" fill="#e8f0ff"/><rect x="451" y="1.5" width="3.5" height="2" fill="#e8f0ff"/><rect x="443" y="9" width="3.5" height="2" fill="#e8f0ff"/><rect x="451" y="9" width="3.5" height="2" fill="#e8f0ff"/><rect x="479" y="0" width="1" height="14" fill="#505050"/><rect x="477" y="11" width="14" height="1" fill="#505050"/><path d="M490,9.5 L492.5,11.5 L490,13.5Z" fill="#505050"/><path d="M477.5,1.5 L479.5,-0.5 L481.5,1.5Z" fill="#505050"/><path d="M484.3,2.9 L488.3,5.8 L484.3,8.7Z" fill="#20b020"/><rect x="507" y="0" width="1" height="14" fill="#505050"/><rect x="505" y="11" width="14" height="1" fill="#505050"/><path d="M518,9.5 L520.5,11.5 L518,13.5Z" fill="#505050"/><path d="M505.5,1.5 L507.5,-0.5 L509.5,1.5Z" fill="#505050"/><rect x="513" y="0" width="1" height="10" fill="#2a6ac8"/><path d="M514.5,5.5 L517.5,3.5 V4.8 H519 V6.2 H517.5 V7.5Z" fill="#e03010"/><path d="M538.5,-2H547L549.5,1V10.5H538.5Z" fill="#fff" stroke="#808080" stroke-width="1"/><path d="M546.5,4h3.6v3.6h3.6v3.6h-3.6v3.6h-3.6v-3.6h-3.6v-3.6h3.6z" fill="url(#ggreen)" stroke="#0a8a0a" stroke-width="0.8"/><path d="M560,5.2 L565,5.2 L562.5,7.8Z" fill="#000"/><path d="M598.6,5.2 L603.6,5.2 L601.1,7.8Z" fill="#000"/><path d="M638,5.2 L643,5.2 L640.5,7.8Z" fill="#000"/><circle cx="584" cy="5.8" r="7" fill="#fff" stroke="#2a70d0" stroke-width="2"/><path d="M584,2 V6 H587" fill="none" stroke="#333" stroke-width="1"/><rect x="615.5" y="-1" width="14.5" height="13" fill="#fff" stroke="#3a70c0" stroke-width="1"/><rect x="616" y="-1" width="14" height="2.5" fill="#7aa0e0"/><rect x="616" y="5.8" width="14" height="1" fill="#3a70c0"/><path d="M617.5,4 L621,3.5 L624,4 L628.5,2.8" fill="none" stroke="#b02010" stroke-width="1"/><path d="M617.5,10 L620.5,8.5 L623,10 L626,8 L628.5,9.5" fill="none" stroke="#20a020" stroke-width="1"/><path d="M667,1 L667,12.5 L669.8,10 L672,14 L673.8,13 L671.6,9.2 L675,9 Z" fill="#404040"/><rect x="692" y="6" width="15" height="1" fill="#505050"/><rect x="699" y="0" width="1" height="13" fill="#505050"/><rect x="697" y="5" width="5" height="3" fill="#f0f0f0"/><rect x="733" y="1" width="1" height="11.5" fill="#505050"/><rect x="755.7" y="6" width="12" height="1" fill="#505050"/><line x1="783.4" y1="12.9" x2="796" y2="1.4" stroke="#505050" stroke-width="1"/><g stroke="#505050" stroke-width="1" fill="none"><path d="M810,9 L822,1M812,12 L824,4M813,5 L815,9M816,3 L818,7M819,1 L821,5"/></g><text x="819.5" y="15.2" font-size="7" fill="#404040" text-anchor="start" font-weight="bold">E</text><g fill="#606060"><rect x="839" y="1" width="1" height="1"/><rect x="841" y="1" width="1" height="1"/><rect x="843" y="1" width="1" height="1"/><rect x="845" y="1" width="1" height="1"/><rect x="847" y="1" width="1" height="1"/><rect x="849" y="1" width="1" height="1"/><rect x="851" y="1" width="1" height="1"/><rect x="839" y="4" width="1" height="1"/><rect x="841" y="4" width="1" height="1"/><rect x="843" y="4" width="1" height="1"/><rect x="845" y="4" width="1" height="1"/><rect x="847" y="4" width="1" height="1"/><rect x="849" y="4" width="1" height="1"/><rect x="851" y="4" width="1" height="1"/><rect x="839" y="7" width="1" height="1"/><rect x="841" y="7" width="1" height="1"/><rect x="843" y="7" width="1" height="1"/><rect x="845" y="7" width="1" height="1"/><rect x="847" y="7" width="1" height="1"/><rect x="849" y="7" width="1" height="1"/><rect x="851" y="7" width="1" height="1"/></g><text x="848.5" y="15.2" font-size="7" fill="#404040" text-anchor="start" font-weight="bold">F</text><text x="869.2" y="11.6" font-size="12" fill="#505050" text-anchor="start" textLength="8.2" lengthAdjust="spacingAndGlyphs" font-weight="bold">A</text><rect x="896.5" y="-1" width="11" height="13" fill="none" stroke="#606060" stroke-width="1" stroke-dasharray="1,1"/><text x="898.2" y="10.5" font-size="11" fill="#505050" text-anchor="start" textLength="7" lengthAdjust="spacingAndGlyphs" font-weight="bold">T</text><path d="M923,3 L927,0 L929,3 Z M930,8 L936.5,6 L932,13 Z" fill="#404040"/><path d="M926,4 L931,11" stroke="#404040" stroke-width="1.5"/><path d="M943.7,5.2 L949,5.2 L946.35,7.8Z" fill="#000"/><text x="970.3" y="10.1" font-size="9.8" fill="#303030" text-anchor="start" textLength="13.1" lengthAdjust="spacingAndGlyphs">M1</text><text x="997.9" y="10.1" font-size="9.8" fill="#303030" text-anchor="start" textLength="13.3" lengthAdjust="spacingAndGlyphs">M5</text><text x="1024.4" y="10.1" font-size="9.8" fill="#303030" text-anchor="start" textLength="18.0" lengthAdjust="spacingAndGlyphs">M15</text><text x="1052.5" y="10.1" font-size="9.8" fill="#303030" text-anchor="start" textLength="17.9" lengthAdjust="spacingAndGlyphs">M30</text><text x="1083.7" y="10.1" font-size="9.8" fill="#303030" text-anchor="start" textLength="11.7" lengthAdjust="spacingAndGlyphs">H1</text><text x="1110.2" y="10.1" font-size="9.8" fill="#303030" text-anchor="start" textLength="13.3" lengthAdjust="spacingAndGlyphs">H4</text><text x="1139" y="10.1" font-size="9.8" fill="#303030" text-anchor="start" textLength="12.9" lengthAdjust="spacingAndGlyphs">D1</text><text x="1166.4" y="10.1" font-size="9.8" fill="#303030" text-anchor="start" textLength="15.1" lengthAdjust="spacingAndGlyphs">W1</text><text x="1193.7" y="10.1" font-size="9.8" fill="#303030" text-anchor="start" textLength="14.8" lengthAdjust="spacingAndGlyphs">MN</text><circle cx="1686.5" cy="3.3" r="3.8" fill="#fff" stroke="#1a50d8" stroke-width="1.6"/><line x1="1683.8" y1="6.5" x2="1679.5" y2="10.8" stroke="#1a50d8" stroke-width="2.4" stroke-linecap="round"/><ellipse cx="1719.3" cy="3.3" rx="6.3" ry="4.2" fill="#ececf4" stroke="#808080" stroke-width="0.9"/><path d="M1721,7 L1722.5,9.8 L1718.5,7.2Z" fill="#808080"/><ellipse cx="1710.4" cy="6.9" rx="5" ry="3.6" fill="#ececf4" stroke="#808080" stroke-width="0.9"/><path d="M1708.5,10 L1707.5,12.6 L1711,10.2Z" fill="#808080"/></g>
<path d="M1442,23 L1451,23 L1446.5,28 Z" fill="#c0c0c0"/>
</svg></body></html>
